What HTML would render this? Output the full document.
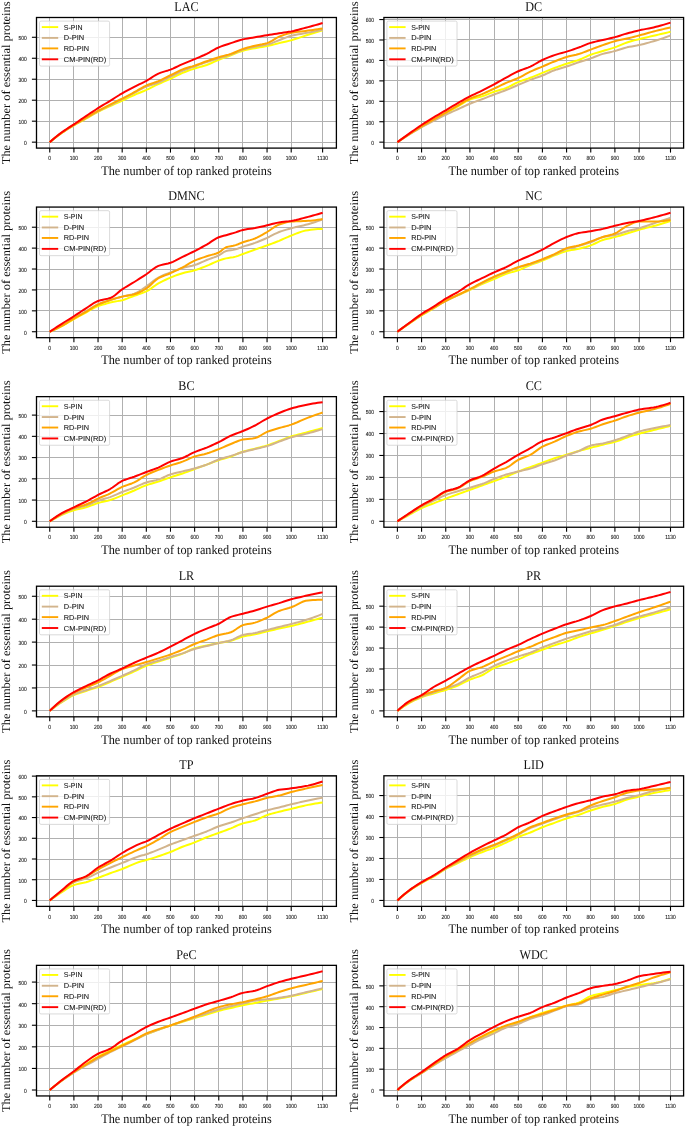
<!DOCTYPE html>
<html><head><meta charset="utf-8"><style>
html,body{margin:0;padding:0;background:#fff;width:685px;height:1126px;overflow:hidden}
svg{display:block;text-rendering:geometricPrecision;will-change:transform}
.gr{stroke:#b0b0b0;stroke-width:1;fill:none}
.grv{stroke-width:1.1}
.cv{fill:none;stroke-width:2;stroke-linejoin:round;stroke-linecap:butt}
.sp{fill:none;stroke:#000;stroke-width:1.3}
.tk{stroke:#000;stroke-width:1.1}
.lgb{fill:#fff;fill-opacity:0.8;stroke:#d0d0d0;stroke-width:0.8}
.tl{font-family:"Liberation Sans",sans-serif;font-size:5.9px;fill:#222;stroke:#222;stroke-width:0.12}
.lg{font-family:"Liberation Sans",sans-serif;font-size:7.2px;fill:#1a1a1a;stroke:#1a1a1a;stroke-width:0.1}
.ti{font-family:"Liberation Serif",serif;font-size:12.2px;fill:#111}
.xl{font-family:"Liberation Serif",serif;font-size:12.25px;fill:#111}
.yl{font-family:"Liberation Serif",serif;font-size:12px;fill:#111}
</style></head><body>
<svg width="685" height="1126" viewBox="0 0 685 1126">
<rect width="685" height="1126" fill="#fff"/>
<g><line x1="49.50" y1="17.50" x2="49.50" y2="148.10" class="gr"/><line x1="73.50" y1="17.50" x2="73.50" y2="148.10" class="gr"/><line x1="98.50" y1="17.50" x2="98.50" y2="148.10" class="gr"/><line x1="122.50" y1="17.50" x2="122.50" y2="148.10" class="gr"/><line x1="146.50" y1="17.50" x2="146.50" y2="148.10" class="gr"/><line x1="170.50" y1="17.50" x2="170.50" y2="148.10" class="gr"/><line x1="194.50" y1="17.50" x2="194.50" y2="148.10" class="gr"/><line x1="218.50" y1="17.50" x2="218.50" y2="148.10" class="gr"/><line x1="242.50" y1="17.50" x2="242.50" y2="148.10" class="gr"/><line x1="267.50" y1="17.50" x2="267.50" y2="148.10" class="gr"/><line x1="291.50" y1="17.50" x2="291.50" y2="148.10" class="gr"/><line x1="322.50" y1="17.50" x2="322.50" y2="148.10" class="gr"/><line x1="36.50" y1="142.50" x2="336.40" y2="142.50" class="gr"/><line x1="36.50" y1="121.50" x2="336.40" y2="121.50" class="gr"/><line x1="36.50" y1="100.50" x2="336.40" y2="100.50" class="gr"/><line x1="36.50" y1="79.50" x2="336.40" y2="79.50" class="gr"/><line x1="36.50" y1="58.50" x2="336.40" y2="58.50" class="gr"/><line x1="36.50" y1="37.50" x2="336.40" y2="37.50" class="gr"/><polyline points="49.75,142.16 52.16,140.18 54.58,138.26 56.99,136.41 59.41,134.63 61.82,132.93 64.24,131.31 66.65,129.76 69.07,128.27 71.48,126.81 73.90,125.38 76.31,123.99 78.73,122.65 81.14,121.33 83.55,120.01 85.97,118.67 88.38,117.28 90.80,115.85 93.21,114.43 95.63,113.05 98.04,111.75 100.46,110.54 102.87,109.39 105.29,108.28 107.70,107.18 110.12,106.08 112.53,104.98 114.94,103.90 117.36,102.82 119.77,101.73 122.19,100.63 124.60,99.50 127.02,98.35 129.43,97.19 131.85,96.06 134.26,94.97 136.68,93.93 139.09,92.95 141.50,91.97 143.92,90.98 146.33,89.93 148.75,88.80 151.16,87.62 153.58,86.40 155.99,85.21 158.41,84.06 160.82,82.98 163.24,81.95 165.65,80.93 168.07,79.89 170.48,78.81 172.89,77.66 175.31,76.43 177.72,75.20 180.14,74.02 182.55,72.94 184.97,71.96 187.38,71.04 189.80,70.17 192.21,69.34 194.63,68.54 197.04,67.80 199.46,67.12 201.87,66.46 204.28,65.76 206.70,64.97 209.11,64.03 211.53,62.97 213.94,61.85 216.36,60.75 218.77,59.73 221.19,58.80 223.60,57.92 226.02,57.06 228.43,56.20 230.85,55.32 233.26,54.37 235.67,53.36 238.09,52.37 240.50,51.46 242.92,50.71 245.33,50.10 247.75,49.57 250.16,49.09 252.58,48.64 254.99,48.19 257.41,47.76 259.82,47.36 262.23,46.96 264.65,46.55 267.06,46.09 269.48,45.57 271.89,44.99 274.31,44.38 276.72,43.76 279.14,43.15 281.55,42.58 283.97,42.02 286.38,41.45 288.80,40.85 291.21,40.22 293.62,39.52 296.04,38.77 298.45,37.98 300.87,37.17 303.28,36.36 305.70,35.57 308.11,34.80 310.53,34.05 312.94,33.30 315.36,32.56 317.77,31.82 320.19,31.09 322.60,30.36" fill="none" stroke="#ffff00" class="cv"/><polyline points="49.75,142.16 52.16,140.12 54.58,138.15 56.99,136.26 59.41,134.45 61.82,132.72 64.24,131.10 66.65,129.55 69.07,128.07 71.48,126.61 73.90,125.17 76.31,123.75 78.73,122.36 81.14,120.99 83.55,119.63 85.97,118.25 88.38,116.85 90.80,115.44 93.21,114.03 95.63,112.66 98.04,111.33 100.46,110.06 102.87,108.84 105.29,107.64 107.70,106.45 110.12,105.24 112.53,104.03 114.94,102.82 117.36,101.61 119.77,100.39 122.19,99.16 124.60,97.92 127.02,96.66 129.43,95.40 131.85,94.13 134.26,92.87 136.68,91.56 139.09,90.22 141.50,88.89 143.92,87.65 146.33,86.58 148.75,85.69 151.16,84.93 153.58,84.21 155.99,83.46 158.41,82.59 160.82,81.56 163.24,80.40 165.65,79.17 168.07,77.93 170.48,76.72 172.89,75.52 175.31,74.29 177.72,73.07 180.14,71.91 182.55,70.84 184.97,69.88 187.38,68.99 189.80,68.14 192.21,67.30 194.63,66.44 197.04,65.55 199.46,64.64 201.87,63.75 204.28,62.87 206.70,62.03 209.11,61.24 211.53,60.48 213.94,59.74 216.36,59.00 218.77,58.26 221.19,57.52 223.60,56.79 226.02,56.06 228.43,55.30 230.85,54.48 233.26,53.55 235.67,52.52 238.09,51.47 240.50,50.49 242.92,49.66 245.33,48.96 247.75,48.33 250.16,47.76 252.58,47.22 254.99,46.72 257.41,46.28 259.82,45.90 262.23,45.54 264.65,45.13 267.06,44.62 269.48,43.94 271.89,43.09 274.31,42.13 276.72,41.15 279.14,40.22 281.55,39.29 283.97,38.32 286.38,37.38 288.80,36.52 291.21,35.81 293.62,35.25 296.04,34.77 298.45,34.33 300.87,33.93 303.28,33.53 305.70,33.10 308.11,32.64 310.53,32.17 312.94,31.69 315.36,31.21 317.77,30.72 320.19,30.23 322.60,29.73" fill="none" stroke="#d2b48c" class="cv"/><polyline points="49.75,142.16 52.16,140.14 54.58,138.18 56.99,136.29 59.41,134.47 61.82,132.72 64.24,131.06 66.65,129.48 69.07,127.95 71.48,126.45 73.90,124.96 76.31,123.49 78.73,122.06 81.14,120.64 83.55,119.23 85.97,117.83 88.38,116.42 90.80,115.02 93.21,113.62 95.63,112.25 98.04,110.91 100.46,109.61 102.87,108.34 105.29,107.09 107.70,105.85 110.12,104.62 112.53,103.39 114.94,102.18 117.36,100.97 119.77,99.76 122.19,98.53 124.60,97.29 127.02,96.05 129.43,94.80 131.85,93.53 134.26,92.24 136.68,90.88 139.09,89.45 141.50,88.03 143.92,86.70 146.33,85.53 148.75,84.55 151.16,83.69 153.58,82.89 155.99,82.05 158.41,81.12 160.82,80.05 163.24,78.89 165.65,77.68 168.07,76.45 170.48,75.25 172.89,74.03 175.31,72.78 177.72,71.54 180.14,70.39 182.55,69.38 184.97,68.52 187.38,67.77 189.80,67.07 192.21,66.37 194.63,65.60 197.04,64.75 199.46,63.86 201.87,62.96 204.28,62.06 206.70,61.19 209.11,60.36 211.53,59.54 213.94,58.73 216.36,57.96 218.77,57.21 221.19,56.52 223.60,55.88 226.02,55.25 228.43,54.59 230.85,53.85 233.26,52.97 235.67,51.96 238.09,50.92 240.50,49.91 242.92,49.03 245.33,48.26 247.75,47.55 250.16,46.89 252.58,46.26 254.99,45.67 257.41,45.16 259.82,44.72 262.23,44.29 264.65,43.79 267.06,43.15 269.48,42.17 271.89,40.80 274.31,39.28 276.72,37.82 279.14,36.65 281.55,35.72 283.97,34.86 286.38,34.08 288.80,33.41 291.21,32.88 293.62,32.46 296.04,32.11 298.45,31.80 300.87,31.52 303.28,31.24 305.70,30.94 308.11,30.61 310.53,30.26 312.94,29.92 315.36,29.56 317.77,29.20 320.19,28.84 322.60,28.47" fill="none" stroke="#ffa500" class="cv"/><polyline points="49.75,142.16 52.16,140.04 54.58,137.98 56.99,136.01 59.41,134.11 61.82,132.30 64.24,130.61 66.65,129.00 69.07,127.46 71.48,125.91 73.90,124.33 76.31,122.71 78.73,121.07 81.14,119.42 83.55,117.78 85.97,116.15 88.38,114.53 90.80,112.92 93.21,111.31 95.63,109.73 98.04,108.18 100.46,106.68 102.87,105.21 105.29,103.76 107.70,102.31 110.12,100.84 112.53,99.33 114.94,97.78 117.36,96.24 119.77,94.73 122.19,93.29 124.60,91.92 127.02,90.59 129.43,89.29 131.85,88.03 134.26,86.79 136.68,85.59 139.09,84.46 141.50,83.33 143.92,82.16 146.33,80.91 148.75,79.48 151.16,77.88 153.58,76.27 155.99,74.79 158.41,73.57 160.82,72.64 163.24,71.87 165.65,71.15 168.07,70.42 170.48,69.58 172.89,68.60 175.31,67.50 177.72,66.36 180.14,65.22 182.55,64.13 184.97,63.10 187.38,62.10 189.80,61.11 192.21,60.11 194.63,59.10 197.04,58.08 199.46,57.07 201.87,56.04 204.28,54.98 206.70,53.85 209.11,52.60 211.53,51.22 213.94,49.82 216.36,48.49 218.77,47.35 221.19,46.39 223.60,45.52 226.02,44.71 228.43,43.94 230.85,43.15 233.26,42.34 235.67,41.51 238.09,40.71 240.50,39.99 242.92,39.38 245.33,38.88 247.75,38.45 250.16,38.06 252.58,37.68 254.99,37.28 257.41,36.86 259.82,36.43 262.23,36.01 264.65,35.59 267.06,35.18 269.48,34.79 271.89,34.41 274.31,34.04 276.72,33.67 279.14,33.30 281.55,32.93 283.97,32.58 286.38,32.22 288.80,31.84 291.21,31.41 293.62,30.91 296.04,30.34 298.45,29.72 300.87,29.07 303.28,28.41 305.70,27.75 308.11,27.10 310.53,26.44 312.94,25.78 315.36,25.10 317.77,24.42 320.19,23.72 322.60,23.02" fill="none" stroke="#ff0000" class="cv"/><rect x="36.50" y="17.50" width="299.90" height="130.60" class="sp"/><line x1="49.75" y1="148.10" x2="49.75" y2="152.60" class="tk"/><text transform="translate(49.75,160.30) scale(0.84,1)" class="tl" text-anchor="middle">0</text><line x1="73.90" y1="148.10" x2="73.90" y2="152.60" class="tk"/><text transform="translate(73.90,160.30) scale(0.84,1)" class="tl" text-anchor="middle">100</text><line x1="98.04" y1="148.10" x2="98.04" y2="152.60" class="tk"/><text transform="translate(98.04,160.30) scale(0.84,1)" class="tl" text-anchor="middle">200</text><line x1="122.19" y1="148.10" x2="122.19" y2="152.60" class="tk"/><text transform="translate(122.19,160.30) scale(0.84,1)" class="tl" text-anchor="middle">300</text><line x1="146.33" y1="148.10" x2="146.33" y2="152.60" class="tk"/><text transform="translate(146.33,160.30) scale(0.84,1)" class="tl" text-anchor="middle">400</text><line x1="170.48" y1="148.10" x2="170.48" y2="152.60" class="tk"/><text transform="translate(170.48,160.30) scale(0.84,1)" class="tl" text-anchor="middle">500</text><line x1="194.63" y1="148.10" x2="194.63" y2="152.60" class="tk"/><text transform="translate(194.63,160.30) scale(0.84,1)" class="tl" text-anchor="middle">600</text><line x1="218.77" y1="148.10" x2="218.77" y2="152.60" class="tk"/><text transform="translate(218.77,160.30) scale(0.84,1)" class="tl" text-anchor="middle">700</text><line x1="242.92" y1="148.10" x2="242.92" y2="152.60" class="tk"/><text transform="translate(242.92,160.30) scale(0.84,1)" class="tl" text-anchor="middle">800</text><line x1="267.06" y1="148.10" x2="267.06" y2="152.60" class="tk"/><text transform="translate(267.06,160.30) scale(0.84,1)" class="tl" text-anchor="middle">900</text><line x1="291.21" y1="148.10" x2="291.21" y2="152.60" class="tk"/><text transform="translate(291.21,160.30) scale(0.84,1)" class="tl" text-anchor="middle">1000</text><line x1="322.60" y1="148.10" x2="322.60" y2="152.60" class="tk"/><text transform="translate(322.60,160.30) scale(0.84,1)" class="tl" text-anchor="middle">1130</text><line x1="31.90" y1="142.16" x2="36.50" y2="142.16" class="tk"/><text transform="translate(26.70,145.06) scale(0.84,1)" class="tl" text-anchor="end">0</text><line x1="31.90" y1="121.19" x2="36.50" y2="121.19" class="tk"/><text transform="translate(26.70,124.09) scale(0.84,1)" class="tl" text-anchor="end">100</text><line x1="31.90" y1="100.21" x2="36.50" y2="100.21" class="tk"/><text transform="translate(26.70,103.11) scale(0.84,1)" class="tl" text-anchor="end">200</text><line x1="31.90" y1="79.23" x2="36.50" y2="79.23" class="tk"/><text transform="translate(26.70,82.13) scale(0.84,1)" class="tl" text-anchor="end">300</text><line x1="31.90" y1="58.26" x2="36.50" y2="58.26" class="tk"/><text transform="translate(26.70,61.16) scale(0.84,1)" class="tl" text-anchor="end">400</text><line x1="31.90" y1="37.28" x2="36.50" y2="37.28" class="tk"/><text transform="translate(26.70,40.18) scale(0.84,1)" class="tl" text-anchor="end">500</text><rect x="39.50" y="21.10" width="70.1" height="45" rx="1.5" class="lgb"/><line x1="41.80" y1="27.10" x2="58.20" y2="27.10" stroke="#ffff00" stroke-width="1.9"/><text x="63.80" y="29.60" class="lg" textLength="18.7" lengthAdjust="spacingAndGlyphs">S-PIN</text><line x1="41.80" y1="37.90" x2="58.20" y2="37.90" stroke="#d2b48c" stroke-width="1.9"/><text x="63.80" y="40.40" class="lg" textLength="20.3" lengthAdjust="spacingAndGlyphs">D-PIN</text><line x1="41.80" y1="48.40" x2="58.20" y2="48.40" stroke="#ffa500" stroke-width="1.9"/><text x="63.80" y="50.90" class="lg" textLength="25.2" lengthAdjust="spacingAndGlyphs">RD-PIN</text><line x1="41.80" y1="59.30" x2="58.20" y2="59.30" stroke="#ff0000" stroke-width="1.9"/><text x="63.80" y="61.80" class="lg" textLength="42.5" lengthAdjust="spacingAndGlyphs">CM-PIN(RD)</text><text transform="translate(186.45,10.80) scale(1,1.1)" class="ti" text-anchor="middle">LAC</text><text transform="translate(186.45,174.90) scale(1,1.07)" class="xl" text-anchor="middle">The number of top ranked proteins</text><text transform="translate(10.10,82.80) rotate(-90) scale(1.035,1)" class="yl" text-anchor="middle">The number of essential proteins</text></g>
<g><line x1="397.50" y1="17.50" x2="397.50" y2="148.10" class="gr"/><line x1="421.50" y1="17.50" x2="421.50" y2="148.10" class="gr"/><line x1="445.50" y1="17.50" x2="445.50" y2="148.10" class="gr"/><line x1="469.50" y1="17.50" x2="469.50" y2="148.10" class="gr"/><line x1="494.50" y1="17.50" x2="494.50" y2="148.10" class="gr"/><line x1="518.50" y1="17.50" x2="518.50" y2="148.10" class="gr"/><line x1="542.50" y1="17.50" x2="542.50" y2="148.10" class="gr"/><line x1="566.50" y1="17.50" x2="566.50" y2="148.10" class="gr"/><line x1="590.50" y1="17.50" x2="590.50" y2="148.10" class="gr"/><line x1="614.50" y1="17.50" x2="614.50" y2="148.10" class="gr"/><line x1="639.50" y1="17.50" x2="639.50" y2="148.10" class="gr"/><line x1="670.50" y1="17.50" x2="670.50" y2="148.10" class="gr"/><line x1="383.90" y1="142.50" x2="683.60" y2="142.50" class="gr"/><line x1="383.90" y1="121.50" x2="683.60" y2="121.50" class="gr"/><line x1="383.90" y1="101.50" x2="683.60" y2="101.50" class="gr"/><line x1="383.90" y1="80.50" x2="683.60" y2="80.50" class="gr"/><line x1="383.90" y1="60.50" x2="683.60" y2="60.50" class="gr"/><line x1="383.90" y1="39.50" x2="683.60" y2="39.50" class="gr"/><line x1="383.90" y1="19.50" x2="683.60" y2="19.50" class="gr"/><polyline points="397.40,142.16 399.82,140.52 402.23,138.90 404.65,137.31 407.07,135.74 409.48,134.19 411.90,132.67 414.32,131.18 416.73,129.71 419.15,128.26 421.57,126.84 423.98,125.45 426.40,124.10 428.82,122.76 431.24,121.43 433.65,120.09 436.07,118.75 438.49,117.41 440.90,116.06 443.32,114.71 445.74,113.35 448.15,111.97 450.57,110.59 452.99,109.19 455.40,107.80 457.82,106.40 460.24,104.93 462.65,103.36 465.07,101.85 467.49,100.50 469.90,99.45 472.32,98.71 474.74,98.12 477.15,97.59 479.57,97.05 481.99,96.39 484.41,95.56 486.82,94.60 489.24,93.58 491.66,92.59 494.07,91.69 496.49,90.92 498.91,90.24 501.32,89.56 503.74,88.84 506.16,88.01 508.57,86.97 510.99,85.75 513.41,84.45 515.82,83.19 518.24,82.08 520.66,81.15 523.07,80.30 525.49,79.49 527.91,78.67 530.32,77.79 532.74,76.85 535.16,75.88 537.58,74.88 539.99,73.88 542.41,72.89 544.83,71.90 547.24,70.90 549.66,69.90 552.08,68.92 554.49,67.98 556.91,67.08 559.33,66.20 561.74,65.33 564.16,64.50 566.58,63.69 568.99,62.94 571.41,62.25 573.83,61.56 576.24,60.83 578.66,60.01 581.08,59.05 583.49,57.94 585.91,56.78 588.33,55.67 590.75,54.70 593.16,53.88 595.58,53.13 598.00,52.43 600.41,51.74 602.83,51.02 605.25,50.30 607.66,49.60 610.08,48.89 612.50,48.15 614.91,47.35 617.33,46.42 619.75,45.39 622.16,44.33 624.58,43.32 627.00,42.44 629.41,41.70 631.83,41.02 634.25,40.38 636.66,39.78 639.08,39.17 641.50,38.57 643.92,38.00 646.33,37.44 648.75,36.88 651.17,36.33 653.58,35.77 656.00,35.21 658.42,34.64 660.83,34.08 663.25,33.51 665.67,32.95 668.08,32.38 670.50,31.81" fill="none" stroke="#ffff00" class="cv"/><polyline points="397.40,142.16 399.82,140.56 402.23,138.98 404.65,137.43 407.07,135.90 409.48,134.40 411.90,132.92 414.32,131.45 416.73,130.02 419.15,128.61 421.57,127.25 423.98,125.93 426.40,124.65 428.82,123.39 431.24,122.15 433.65,120.91 436.07,119.66 438.49,118.41 440.90,117.18 443.32,115.96 445.74,114.78 448.15,113.64 450.57,112.53 452.99,111.44 455.40,110.36 457.82,109.26 460.24,108.14 462.65,107.00 465.07,105.87 467.49,104.78 469.90,103.75 472.32,102.79 474.74,101.89 477.15,101.02 479.57,100.15 481.99,99.25 484.41,98.32 486.82,97.38 489.24,96.43 491.66,95.48 494.07,94.55 496.49,93.65 498.91,92.77 501.32,91.88 503.74,90.99 506.16,90.05 508.57,89.07 510.99,88.06 513.41,87.02 515.82,85.98 518.24,84.95 520.66,83.91 523.07,82.86 525.49,81.82 527.91,80.80 530.32,79.84 532.74,78.95 535.16,78.11 537.58,77.29 539.99,76.45 542.41,75.55 544.83,74.52 547.24,73.41 549.66,72.27 552.08,71.19 554.49,70.23 556.91,69.42 559.33,68.69 561.74,68.00 564.16,67.30 566.58,66.55 568.99,65.73 571.41,64.86 573.83,63.98 576.24,63.10 578.66,62.26 581.08,61.47 583.49,60.71 585.91,59.96 588.33,59.19 590.75,58.38 593.16,57.49 595.58,56.53 598.00,55.57 600.41,54.67 602.83,53.88 605.25,53.24 607.66,52.68 610.08,52.16 612.50,51.62 614.91,51.02 617.33,50.32 619.75,49.53 622.16,48.73 624.58,47.98 627.00,47.35 629.41,46.84 631.83,46.41 634.25,46.00 636.66,45.58 639.08,45.10 641.50,44.54 643.92,43.93 646.33,43.28 648.75,42.60 651.17,41.89 653.58,41.17 656.00,40.44 658.42,39.68 660.83,38.89 663.25,38.08 665.67,37.24 668.08,36.38 670.50,35.49" fill="none" stroke="#d2b48c" class="cv"/><polyline points="397.40,142.16 399.82,140.48 402.23,138.82 404.65,137.18 407.07,135.57 409.48,133.99 411.90,132.43 414.32,130.89 416.73,129.38 419.15,127.89 421.57,126.43 423.98,125.00 426.40,123.61 428.82,122.23 431.24,120.86 433.65,119.48 436.07,118.09 438.49,116.70 440.90,115.31 443.32,113.92 445.74,112.53 448.15,111.14 450.57,109.75 452.99,108.36 455.40,106.97 457.82,105.59 460.24,104.15 462.65,102.66 465.07,101.20 467.49,99.84 469.90,98.64 472.32,97.63 474.74,96.74 477.15,95.91 479.57,95.07 481.99,94.14 484.41,93.11 486.82,92.03 489.24,90.90 491.66,89.76 494.07,88.62 496.49,87.48 498.91,86.31 501.32,85.14 503.74,83.99 506.16,82.90 508.57,81.89 510.99,80.95 513.41,80.01 515.82,79.05 518.24,78.00 520.66,76.81 523.07,75.51 525.49,74.18 527.91,72.87 530.32,71.66 532.74,70.57 535.16,69.54 537.58,68.55 539.99,67.56 542.41,66.55 544.83,65.52 547.24,64.48 549.66,63.44 552.08,62.43 554.49,61.45 556.91,60.48 559.33,59.51 561.74,58.58 564.16,57.71 566.58,56.95 568.99,56.32 571.41,55.77 573.83,55.26 576.24,54.72 578.66,54.09 581.08,53.32 583.49,52.43 585.91,51.49 588.33,50.52 590.75,49.59 593.16,48.68 595.58,47.76 598.00,46.85 600.41,45.95 602.83,45.10 605.25,44.26 607.66,43.43 610.08,42.64 612.50,41.89 614.91,41.21 617.33,40.63 619.75,40.10 622.16,39.60 624.58,39.10 627.00,38.56 629.41,37.98 631.83,37.37 634.25,36.76 636.66,36.13 639.08,35.49 641.50,34.84 643.92,34.18 646.33,33.50 648.75,32.82 651.17,32.15 653.58,31.51 656.00,30.90 658.42,30.30 660.83,29.72 663.25,29.15 665.67,28.59 668.08,28.05 670.50,27.52" fill="none" stroke="#ffa500" class="cv"/><polyline points="397.40,142.16 399.82,140.37 402.23,138.60 404.65,136.84 407.07,135.10 409.48,133.38 411.90,131.66 414.32,129.96 416.73,128.27 419.15,126.61 421.57,125.00 423.98,123.43 426.40,121.90 428.82,120.39 431.24,118.91 433.65,117.44 436.07,115.98 438.49,114.55 440.90,113.13 443.32,111.71 445.74,110.29 448.15,108.85 450.57,107.40 452.99,105.96 455.40,104.54 457.82,103.13 460.24,101.74 462.65,100.35 465.07,98.99 467.49,97.66 469.90,96.39 472.32,95.19 474.74,94.06 477.15,92.95 479.57,91.83 481.99,90.67 484.41,89.45 486.82,88.20 489.24,86.93 491.66,85.64 494.07,84.33 496.49,83.00 498.91,81.65 501.32,80.28 503.74,78.92 506.16,77.59 508.57,76.27 510.99,74.94 513.41,73.63 515.82,72.39 518.24,71.25 520.66,70.25 523.07,69.35 525.49,68.48 527.91,67.57 530.32,66.55 532.74,65.35 535.16,64.00 537.58,62.60 539.99,61.24 542.41,60.01 544.83,58.92 547.24,57.87 549.66,56.88 552.08,55.96 554.49,55.11 556.91,54.35 559.33,53.66 561.74,53.01 564.16,52.35 566.58,51.64 568.99,50.87 571.41,50.08 573.83,49.26 576.24,48.41 578.66,47.55 581.08,46.62 583.49,45.61 585.91,44.60 588.33,43.65 590.75,42.85 593.16,42.19 595.58,41.61 598.00,41.07 600.41,40.54 602.83,39.99 605.25,39.43 607.66,38.88 610.08,38.32 612.50,37.75 614.91,37.13 617.33,36.44 619.75,35.69 622.16,34.92 624.58,34.16 627.00,33.45 629.41,32.79 631.83,32.16 634.25,31.54 636.66,30.95 639.08,30.38 641.50,29.85 643.92,29.36 646.33,28.89 648.75,28.42 651.17,27.93 653.58,27.40 656.00,26.82 658.42,26.20 660.83,25.54 663.25,24.86 665.67,24.14 668.08,23.39 670.50,22.62" fill="none" stroke="#ff0000" class="cv"/><rect x="383.90" y="17.50" width="299.70" height="130.60" class="sp"/><line x1="397.40" y1="148.10" x2="397.40" y2="152.60" class="tk"/><text transform="translate(397.40,160.30) scale(0.84,1)" class="tl" text-anchor="middle">0</text><line x1="421.57" y1="148.10" x2="421.57" y2="152.60" class="tk"/><text transform="translate(421.57,160.30) scale(0.84,1)" class="tl" text-anchor="middle">100</text><line x1="445.74" y1="148.10" x2="445.74" y2="152.60" class="tk"/><text transform="translate(445.74,160.30) scale(0.84,1)" class="tl" text-anchor="middle">200</text><line x1="469.90" y1="148.10" x2="469.90" y2="152.60" class="tk"/><text transform="translate(469.90,160.30) scale(0.84,1)" class="tl" text-anchor="middle">300</text><line x1="494.07" y1="148.10" x2="494.07" y2="152.60" class="tk"/><text transform="translate(494.07,160.30) scale(0.84,1)" class="tl" text-anchor="middle">400</text><line x1="518.24" y1="148.10" x2="518.24" y2="152.60" class="tk"/><text transform="translate(518.24,160.30) scale(0.84,1)" class="tl" text-anchor="middle">500</text><line x1="542.41" y1="148.10" x2="542.41" y2="152.60" class="tk"/><text transform="translate(542.41,160.30) scale(0.84,1)" class="tl" text-anchor="middle">600</text><line x1="566.58" y1="148.10" x2="566.58" y2="152.60" class="tk"/><text transform="translate(566.58,160.30) scale(0.84,1)" class="tl" text-anchor="middle">700</text><line x1="590.75" y1="148.10" x2="590.75" y2="152.60" class="tk"/><text transform="translate(590.75,160.30) scale(0.84,1)" class="tl" text-anchor="middle">800</text><line x1="614.91" y1="148.10" x2="614.91" y2="152.60" class="tk"/><text transform="translate(614.91,160.30) scale(0.84,1)" class="tl" text-anchor="middle">900</text><line x1="639.08" y1="148.10" x2="639.08" y2="152.60" class="tk"/><text transform="translate(639.08,160.30) scale(0.84,1)" class="tl" text-anchor="middle">1000</text><line x1="670.50" y1="148.10" x2="670.50" y2="152.60" class="tk"/><text transform="translate(670.50,160.30) scale(0.84,1)" class="tl" text-anchor="middle">1130</text><line x1="379.30" y1="142.16" x2="383.90" y2="142.16" class="tk"/><text transform="translate(374.10,145.06) scale(0.84,1)" class="tl" text-anchor="end">0</text><line x1="379.30" y1="121.73" x2="383.90" y2="121.73" class="tk"/><text transform="translate(374.10,124.63) scale(0.84,1)" class="tl" text-anchor="end">100</text><line x1="379.30" y1="101.29" x2="383.90" y2="101.29" class="tk"/><text transform="translate(374.10,104.19) scale(0.84,1)" class="tl" text-anchor="end">200</text><line x1="379.30" y1="80.86" x2="383.90" y2="80.86" class="tk"/><text transform="translate(374.10,83.76) scale(0.84,1)" class="tl" text-anchor="end">300</text><line x1="379.30" y1="60.42" x2="383.90" y2="60.42" class="tk"/><text transform="translate(374.10,63.32) scale(0.84,1)" class="tl" text-anchor="end">400</text><line x1="379.30" y1="39.99" x2="383.90" y2="39.99" class="tk"/><text transform="translate(374.10,42.89) scale(0.84,1)" class="tl" text-anchor="end">500</text><line x1="379.30" y1="19.55" x2="383.90" y2="19.55" class="tk"/><text transform="translate(374.10,22.45) scale(0.84,1)" class="tl" text-anchor="end">600</text><rect x="386.90" y="21.10" width="70.1" height="45" rx="1.5" class="lgb"/><line x1="389.20" y1="27.10" x2="405.60" y2="27.10" stroke="#ffff00" stroke-width="1.9"/><text x="411.20" y="29.60" class="lg" textLength="18.7" lengthAdjust="spacingAndGlyphs">S-PIN</text><line x1="389.20" y1="37.90" x2="405.60" y2="37.90" stroke="#d2b48c" stroke-width="1.9"/><text x="411.20" y="40.40" class="lg" textLength="20.3" lengthAdjust="spacingAndGlyphs">D-PIN</text><line x1="389.20" y1="48.40" x2="405.60" y2="48.40" stroke="#ffa500" stroke-width="1.9"/><text x="411.20" y="50.90" class="lg" textLength="25.2" lengthAdjust="spacingAndGlyphs">RD-PIN</text><line x1="389.20" y1="59.30" x2="405.60" y2="59.30" stroke="#ff0000" stroke-width="1.9"/><text x="411.20" y="61.80" class="lg" textLength="42.5" lengthAdjust="spacingAndGlyphs">CM-PIN(RD)</text><text transform="translate(533.75,10.80) scale(1,1.1)" class="ti" text-anchor="middle">DC</text><text transform="translate(533.75,174.90) scale(1,1.07)" class="xl" text-anchor="middle">The number of top ranked proteins</text><text transform="translate(357.50,82.80) rotate(-90) scale(1.035,1)" class="yl" text-anchor="middle">The number of essential proteins</text></g>
<g><line x1="49.50" y1="207.07" x2="49.50" y2="337.67" class="gr"/><line x1="73.50" y1="207.07" x2="73.50" y2="337.67" class="gr"/><line x1="98.50" y1="207.07" x2="98.50" y2="337.67" class="gr"/><line x1="122.50" y1="207.07" x2="122.50" y2="337.67" class="gr"/><line x1="146.50" y1="207.07" x2="146.50" y2="337.67" class="gr"/><line x1="170.50" y1="207.07" x2="170.50" y2="337.67" class="gr"/><line x1="194.50" y1="207.07" x2="194.50" y2="337.67" class="gr"/><line x1="218.50" y1="207.07" x2="218.50" y2="337.67" class="gr"/><line x1="242.50" y1="207.07" x2="242.50" y2="337.67" class="gr"/><line x1="267.50" y1="207.07" x2="267.50" y2="337.67" class="gr"/><line x1="291.50" y1="207.07" x2="291.50" y2="337.67" class="gr"/><line x1="322.50" y1="207.07" x2="322.50" y2="337.67" class="gr"/><line x1="36.50" y1="331.50" x2="336.40" y2="331.50" class="gr"/><line x1="36.50" y1="310.50" x2="336.40" y2="310.50" class="gr"/><line x1="36.50" y1="289.50" x2="336.40" y2="289.50" class="gr"/><line x1="36.50" y1="269.50" x2="336.40" y2="269.50" class="gr"/><line x1="36.50" y1="248.50" x2="336.40" y2="248.50" class="gr"/><line x1="36.50" y1="227.50" x2="336.40" y2="227.50" class="gr"/><polyline points="49.75,331.73 52.16,330.70 54.58,329.62 56.99,328.49 59.41,327.31 61.82,326.09 64.24,324.80 66.65,323.42 69.07,322.00 71.48,320.58 73.90,319.19 76.31,317.84 78.73,316.49 81.14,315.15 83.55,313.82 85.97,312.50 88.38,311.13 90.80,309.70 93.21,308.31 95.63,307.05 98.04,306.02 100.46,305.25 102.87,304.60 105.29,303.93 107.70,303.17 110.12,302.47 112.53,301.95 114.94,301.53 117.36,301.13 119.77,300.70 122.19,300.17 124.60,299.47 127.02,298.61 129.43,297.67 131.85,296.70 134.26,295.78 136.68,294.94 139.09,294.15 141.50,293.33 143.92,292.43 146.33,291.39 148.75,290.06 151.16,288.43 153.58,286.67 155.99,284.96 158.41,283.45 160.82,282.14 163.24,280.90 165.65,279.73 168.07,278.63 170.48,277.60 172.89,276.61 175.31,275.67 177.72,274.78 180.14,273.95 182.55,273.21 184.97,272.56 187.38,272.01 189.80,271.48 192.21,270.92 194.63,270.28 197.04,269.53 199.46,268.69 201.87,267.79 204.28,266.85 206.70,265.89 209.11,264.88 211.53,263.78 213.94,262.67 216.36,261.61 218.77,260.66 221.19,259.80 223.60,259.01 226.02,258.37 228.43,257.92 230.85,257.57 233.26,257.20 235.67,256.65 238.09,255.85 240.50,254.90 242.92,253.98 245.33,253.10 247.75,252.22 250.16,251.33 252.58,250.45 254.99,249.59 257.41,248.74 259.82,247.92 262.23,247.10 264.65,246.26 267.06,245.41 269.48,244.52 271.89,243.63 274.31,242.71 276.72,241.77 279.14,240.81 281.55,239.78 283.97,238.70 286.38,237.61 288.80,236.55 291.21,235.58 293.62,234.64 296.04,233.68 298.45,232.74 300.87,231.87 303.28,231.13 305.70,230.56 308.11,230.18 310.53,229.85 312.94,229.54 315.36,229.28 317.77,229.07 320.19,228.94 322.60,228.89" fill="none" stroke="#ffff00" class="cv"/><polyline points="49.75,331.73 52.16,330.56 54.58,329.35 56.99,328.09 59.41,326.80 61.82,325.46 64.24,324.06 66.65,322.60 69.07,321.10 71.48,319.60 73.90,318.15 76.31,316.74 78.73,315.37 81.14,314.00 83.55,312.64 85.97,311.25 88.38,309.79 90.80,308.26 93.21,306.75 95.63,305.35 98.04,304.14 100.46,303.13 102.87,302.25 105.29,301.42 107.70,300.67 110.12,299.96 112.53,299.26 114.94,298.58 117.36,297.91 119.77,297.25 122.19,296.62 124.60,296.05 127.02,295.54 129.43,295.02 131.85,294.43 134.26,293.69 136.68,292.65 139.09,291.28 141.50,289.70 143.92,288.02 146.33,286.37 148.75,284.65 151.16,282.76 153.58,280.86 155.99,279.09 158.41,277.60 160.82,276.37 163.24,275.27 165.65,274.27 168.07,273.31 170.48,272.37 172.89,271.42 175.31,270.47 177.72,269.57 180.14,268.73 182.55,267.98 184.97,267.34 187.38,266.80 189.80,266.28 192.21,265.72 194.63,265.05 197.04,264.21 199.46,263.22 201.87,262.14 204.28,261.06 206.70,260.04 209.11,259.13 211.53,258.28 213.94,257.43 216.36,256.50 218.77,255.44 221.19,253.93 223.60,252.22 226.02,251.05 228.43,250.55 230.85,250.21 233.26,249.87 235.67,249.34 238.09,248.51 240.50,247.56 242.92,246.66 245.33,245.89 247.75,245.17 250.16,244.45 252.58,243.71 254.99,242.90 257.41,242.00 259.82,241.03 262.23,240.01 264.65,238.96 267.06,237.88 269.48,236.73 271.89,235.48 274.31,234.23 276.72,233.05 279.14,232.03 281.55,231.16 283.97,230.36 286.38,229.62 288.80,228.93 291.21,228.27 293.62,227.64 296.04,227.07 298.45,226.52 300.87,225.98 303.28,225.42 305.70,224.82 308.11,224.17 310.53,223.47 312.94,222.73 315.36,221.97 317.77,221.17 320.19,220.34 322.60,219.49" fill="none" stroke="#d2b48c" class="cv"/><polyline points="49.75,331.73 52.16,330.68 54.58,329.56 56.99,328.39 59.41,327.16 61.82,325.88 64.24,324.51 66.65,323.04 69.07,321.52 71.48,320.01 73.90,318.56 76.31,317.20 78.73,315.88 81.14,314.57 83.55,313.24 85.97,311.88 88.38,310.40 90.80,308.82 93.21,307.25 95.63,305.80 98.04,304.56 100.46,303.56 102.87,302.69 105.29,301.84 107.70,300.98 110.12,300.17 112.53,299.39 114.94,298.63 117.36,297.90 119.77,297.22 122.19,296.62 124.60,296.13 127.02,295.72 129.43,295.33 131.85,294.89 134.26,294.32 136.68,293.52 139.09,292.50 141.50,291.28 143.92,289.92 146.33,288.47 148.75,286.66 151.16,284.43 153.58,282.08 155.99,279.91 158.41,278.22 160.82,277.01 163.24,276.01 165.65,275.10 168.07,274.20 170.48,273.21 172.89,272.11 175.31,270.97 177.72,269.79 180.14,268.59 182.55,267.35 184.97,266.03 187.38,264.61 189.80,263.18 192.21,261.84 194.63,260.66 197.04,259.66 199.46,258.75 201.87,257.89 204.28,257.08 206.70,256.27 209.11,255.54 211.53,254.89 213.94,254.23 216.36,253.47 218.77,252.51 221.19,250.86 223.60,248.76 226.02,247.29 228.43,246.64 230.85,246.20 233.26,245.76 235.67,245.11 238.09,244.21 240.50,243.20 242.92,242.27 245.33,241.50 247.75,240.80 250.16,240.12 252.58,239.37 254.99,238.51 257.41,237.45 259.82,236.21 262.23,234.85 264.65,233.44 267.06,232.03 269.48,230.49 271.89,228.78 274.31,227.09 276.72,225.60 279.14,224.50 281.55,223.69 283.97,222.95 286.38,222.33 288.80,221.86 291.21,221.58 293.62,221.43 296.04,221.33 298.45,221.26 300.87,221.19 303.28,221.12 305.70,221.02 308.11,220.87 310.53,220.67 312.94,220.42 315.36,220.13 317.77,219.80 320.19,219.45 322.60,219.07" fill="none" stroke="#ffa500" class="cv"/><polyline points="49.75,331.73 52.16,330.11 54.58,328.51 56.99,326.92 59.41,325.35 61.82,323.79 64.24,322.27 66.65,320.77 69.07,319.29 71.48,317.79 73.90,316.27 76.31,314.69 78.73,313.09 81.14,311.47 83.55,309.88 85.97,308.32 88.38,306.72 90.80,305.06 93.21,303.46 95.63,302.07 98.04,301.01 100.46,300.27 102.87,299.68 105.29,299.13 107.70,298.65 110.12,298.08 112.53,296.94 114.94,295.22 117.36,293.18 119.77,291.12 122.19,289.30 124.60,287.76 127.02,286.30 129.43,284.88 131.85,283.45 134.26,281.99 136.68,280.48 139.09,278.95 141.50,277.41 143.92,275.84 146.33,274.25 148.75,272.50 151.16,270.59 153.58,268.72 155.99,267.09 158.41,265.89 160.82,265.11 163.24,264.52 165.65,264.01 168.07,263.46 170.48,262.75 172.89,261.81 175.31,260.67 177.72,259.41 180.14,258.13 182.55,256.90 184.97,255.74 187.38,254.59 189.80,253.43 192.21,252.26 194.63,251.05 197.04,249.81 199.46,248.54 201.87,247.25 204.28,245.93 206.70,244.57 209.11,243.08 211.53,241.44 213.94,239.83 216.36,238.38 218.77,237.25 221.19,236.46 223.60,235.81 226.02,235.16 228.43,234.48 230.85,233.79 233.26,233.09 235.67,232.34 238.09,231.47 240.50,230.61 242.92,229.94 245.33,229.48 247.75,229.11 250.16,228.79 252.58,228.45 254.99,228.06 257.41,227.58 259.82,227.05 262.23,226.49 264.65,225.91 267.06,225.34 269.48,224.74 271.89,224.09 274.31,223.45 276.72,222.88 279.14,222.41 281.55,222.07 283.97,221.80 286.38,221.55 288.80,221.28 291.21,220.95 293.62,220.52 296.04,220.00 298.45,219.42 300.87,218.79 303.28,218.15 305.70,217.50 308.11,216.87 310.53,216.23 312.94,215.58 315.36,214.90 317.77,214.22 320.19,213.51 322.60,212.80" fill="none" stroke="#ff0000" class="cv"/><rect x="36.50" y="207.07" width="299.90" height="130.60" class="sp"/><line x1="49.75" y1="337.67" x2="49.75" y2="342.17" class="tk"/><text transform="translate(49.75,349.87) scale(0.84,1)" class="tl" text-anchor="middle">0</text><line x1="73.90" y1="337.67" x2="73.90" y2="342.17" class="tk"/><text transform="translate(73.90,349.87) scale(0.84,1)" class="tl" text-anchor="middle">100</text><line x1="98.04" y1="337.67" x2="98.04" y2="342.17" class="tk"/><text transform="translate(98.04,349.87) scale(0.84,1)" class="tl" text-anchor="middle">200</text><line x1="122.19" y1="337.67" x2="122.19" y2="342.17" class="tk"/><text transform="translate(122.19,349.87) scale(0.84,1)" class="tl" text-anchor="middle">300</text><line x1="146.33" y1="337.67" x2="146.33" y2="342.17" class="tk"/><text transform="translate(146.33,349.87) scale(0.84,1)" class="tl" text-anchor="middle">400</text><line x1="170.48" y1="337.67" x2="170.48" y2="342.17" class="tk"/><text transform="translate(170.48,349.87) scale(0.84,1)" class="tl" text-anchor="middle">500</text><line x1="194.63" y1="337.67" x2="194.63" y2="342.17" class="tk"/><text transform="translate(194.63,349.87) scale(0.84,1)" class="tl" text-anchor="middle">600</text><line x1="218.77" y1="337.67" x2="218.77" y2="342.17" class="tk"/><text transform="translate(218.77,349.87) scale(0.84,1)" class="tl" text-anchor="middle">700</text><line x1="242.92" y1="337.67" x2="242.92" y2="342.17" class="tk"/><text transform="translate(242.92,349.87) scale(0.84,1)" class="tl" text-anchor="middle">800</text><line x1="267.06" y1="337.67" x2="267.06" y2="342.17" class="tk"/><text transform="translate(267.06,349.87) scale(0.84,1)" class="tl" text-anchor="middle">900</text><line x1="291.21" y1="337.67" x2="291.21" y2="342.17" class="tk"/><text transform="translate(291.21,349.87) scale(0.84,1)" class="tl" text-anchor="middle">1000</text><line x1="322.60" y1="337.67" x2="322.60" y2="342.17" class="tk"/><text transform="translate(322.60,349.87) scale(0.84,1)" class="tl" text-anchor="middle">1130</text><line x1="31.90" y1="331.73" x2="36.50" y2="331.73" class="tk"/><text transform="translate(26.70,334.63) scale(0.84,1)" class="tl" text-anchor="end">0</text><line x1="31.90" y1="310.83" x2="36.50" y2="310.83" class="tk"/><text transform="translate(26.70,313.73) scale(0.84,1)" class="tl" text-anchor="end">100</text><line x1="31.90" y1="289.93" x2="36.50" y2="289.93" class="tk"/><text transform="translate(26.70,292.83) scale(0.84,1)" class="tl" text-anchor="end">200</text><line x1="31.90" y1="269.03" x2="36.50" y2="269.03" class="tk"/><text transform="translate(26.70,271.93) scale(0.84,1)" class="tl" text-anchor="end">300</text><line x1="31.90" y1="248.12" x2="36.50" y2="248.12" class="tk"/><text transform="translate(26.70,251.02) scale(0.84,1)" class="tl" text-anchor="end">400</text><line x1="31.90" y1="227.22" x2="36.50" y2="227.22" class="tk"/><text transform="translate(26.70,230.12) scale(0.84,1)" class="tl" text-anchor="end">500</text><rect x="39.50" y="210.67" width="70.1" height="45" rx="1.5" class="lgb"/><line x1="41.80" y1="216.67" x2="58.20" y2="216.67" stroke="#ffff00" stroke-width="1.9"/><text x="63.80" y="219.17" class="lg" textLength="18.7" lengthAdjust="spacingAndGlyphs">S-PIN</text><line x1="41.80" y1="227.47" x2="58.20" y2="227.47" stroke="#d2b48c" stroke-width="1.9"/><text x="63.80" y="229.97" class="lg" textLength="20.3" lengthAdjust="spacingAndGlyphs">D-PIN</text><line x1="41.80" y1="237.97" x2="58.20" y2="237.97" stroke="#ffa500" stroke-width="1.9"/><text x="63.80" y="240.47" class="lg" textLength="25.2" lengthAdjust="spacingAndGlyphs">RD-PIN</text><line x1="41.80" y1="248.87" x2="58.20" y2="248.87" stroke="#ff0000" stroke-width="1.9"/><text x="63.80" y="251.37" class="lg" textLength="42.5" lengthAdjust="spacingAndGlyphs">CM-PIN(RD)</text><text transform="translate(186.45,200.37) scale(1,1.1)" class="ti" text-anchor="middle">DMNC</text><text transform="translate(186.45,364.47) scale(1,1.07)" class="xl" text-anchor="middle">The number of top ranked proteins</text><text transform="translate(10.10,272.37) rotate(-90) scale(1.035,1)" class="yl" text-anchor="middle">The number of essential proteins</text></g>
<g><line x1="397.50" y1="207.07" x2="397.50" y2="337.67" class="gr"/><line x1="421.50" y1="207.07" x2="421.50" y2="337.67" class="gr"/><line x1="445.50" y1="207.07" x2="445.50" y2="337.67" class="gr"/><line x1="469.50" y1="207.07" x2="469.50" y2="337.67" class="gr"/><line x1="494.50" y1="207.07" x2="494.50" y2="337.67" class="gr"/><line x1="518.50" y1="207.07" x2="518.50" y2="337.67" class="gr"/><line x1="542.50" y1="207.07" x2="542.50" y2="337.67" class="gr"/><line x1="566.50" y1="207.07" x2="566.50" y2="337.67" class="gr"/><line x1="590.50" y1="207.07" x2="590.50" y2="337.67" class="gr"/><line x1="614.50" y1="207.07" x2="614.50" y2="337.67" class="gr"/><line x1="639.50" y1="207.07" x2="639.50" y2="337.67" class="gr"/><line x1="670.50" y1="207.07" x2="670.50" y2="337.67" class="gr"/><line x1="383.90" y1="331.50" x2="683.60" y2="331.50" class="gr"/><line x1="383.90" y1="310.50" x2="683.60" y2="310.50" class="gr"/><line x1="383.90" y1="289.50" x2="683.60" y2="289.50" class="gr"/><line x1="383.90" y1="269.50" x2="683.60" y2="269.50" class="gr"/><line x1="383.90" y1="248.50" x2="683.60" y2="248.50" class="gr"/><line x1="383.90" y1="227.50" x2="683.60" y2="227.50" class="gr"/><polyline points="397.40,331.73 399.82,330.03 402.23,328.34 404.65,326.67 407.07,325.01 409.48,323.37 411.90,321.74 414.32,320.12 416.73,318.52 419.15,316.96 421.57,315.43 423.98,313.96 426.40,312.55 428.82,311.16 431.24,309.76 433.65,308.32 436.07,306.81 438.49,305.23 440.90,303.65 443.32,302.15 445.74,300.80 448.15,299.60 450.57,298.50 452.99,297.45 455.40,296.42 457.82,295.36 460.24,294.28 462.65,293.21 465.07,292.13 467.49,291.04 469.90,289.93 472.32,288.77 474.74,287.58 477.15,286.37 479.57,285.20 481.99,284.08 484.41,283.03 486.82,282.02 489.24,281.04 491.66,280.06 494.07,279.06 496.49,278.00 498.91,276.89 501.32,275.79 503.74,274.75 506.16,273.83 508.57,273.06 510.99,272.38 513.41,271.73 515.82,271.06 518.24,270.28 520.66,269.35 523.07,268.29 525.49,267.17 527.91,266.07 530.32,265.05 532.74,264.14 535.16,263.28 537.58,262.44 539.99,261.58 542.41,260.66 544.83,259.66 547.24,258.60 549.66,257.51 552.08,256.44 554.49,255.44 556.91,254.47 559.33,253.50 561.74,252.57 564.16,251.74 566.58,251.05 568.99,250.51 571.41,250.07 573.83,249.66 576.24,249.24 578.66,248.75 581.08,248.19 583.49,247.58 585.91,246.92 588.33,246.20 590.75,245.41 593.16,244.43 595.58,243.26 598.00,242.03 600.41,240.89 602.83,239.97 605.25,239.28 607.66,238.70 610.08,238.17 612.50,237.64 614.91,237.04 617.33,236.38 619.75,235.68 622.16,234.96 624.58,234.23 627.00,233.49 629.41,232.74 631.83,231.97 634.25,231.19 636.66,230.44 639.08,229.73 641.50,229.08 643.92,228.47 646.33,227.88 648.75,227.30 651.17,226.71 653.58,226.08 656.00,225.42 658.42,224.73 660.83,224.01 663.25,223.28 665.67,222.52 668.08,221.74 670.50,220.95" fill="none" stroke="#ffff00" class="cv"/><polyline points="397.40,331.73 399.82,329.99 402.23,328.25 404.65,326.54 407.07,324.84 409.48,323.16 411.90,321.49 414.32,319.82 416.73,318.17 419.15,316.56 421.57,315.01 423.98,313.52 426.40,312.09 428.82,310.69 431.24,309.30 433.65,307.90 436.07,306.49 438.49,305.08 440.90,303.67 443.32,302.31 445.74,301.01 448.15,299.77 450.57,298.60 452.99,297.45 455.40,296.31 457.82,295.15 460.24,293.99 462.65,292.83 465.07,291.67 467.49,290.50 469.90,289.30 472.32,288.07 474.74,286.80 477.15,285.53 479.57,284.26 481.99,283.03 484.41,281.82 486.82,280.62 489.24,279.43 491.66,278.28 494.07,277.18 496.49,276.12 498.91,275.09 501.32,274.10 503.74,273.12 506.16,272.16 508.57,271.20 510.99,270.24 513.41,269.30 515.82,268.40 518.24,267.56 520.66,266.81 523.07,266.11 525.49,265.44 527.91,264.75 530.32,264.01 532.74,263.20 535.16,262.35 537.58,261.46 539.99,260.55 542.41,259.62 544.83,258.67 547.24,257.69 549.66,256.68 552.08,255.65 554.49,254.60 556.91,253.46 559.33,252.22 561.74,250.99 564.16,249.87 566.58,248.96 568.99,248.27 571.41,247.69 573.83,247.17 576.24,246.64 578.66,246.03 581.08,245.36 583.49,244.65 585.91,243.91 588.33,243.12 590.75,242.27 593.16,241.26 595.58,240.09 598.00,238.89 600.41,237.83 602.83,237.04 605.25,236.53 607.66,236.14 610.08,235.79 612.50,235.42 614.91,234.95 617.33,234.32 619.75,233.56 622.16,232.73 624.58,231.92 627.00,231.19 629.41,230.57 631.83,230.01 634.25,229.46 636.66,228.89 639.08,228.27 641.50,227.56 643.92,226.78 646.33,225.97 648.75,225.13 651.17,224.28 653.58,223.45 656.00,222.64 658.42,221.83 660.83,221.03 663.25,220.23 665.67,219.42 668.08,218.62 670.50,217.81" fill="none" stroke="#d2b48c" class="cv"/><polyline points="397.40,331.73 399.82,330.00 402.23,328.28 404.65,326.57 407.07,324.86 409.48,323.16 411.90,321.46 414.32,319.74 416.73,318.04 419.15,316.38 421.57,314.80 423.98,313.30 426.40,311.87 428.82,310.47 431.24,309.08 433.65,307.70 436.07,306.28 438.49,304.87 440.90,303.47 443.32,302.10 445.74,300.80 448.15,299.57 450.57,298.39 452.99,297.24 455.40,296.10 457.82,294.94 460.24,293.78 462.65,292.63 465.07,291.48 467.49,290.30 469.90,289.09 472.32,287.83 474.74,286.52 477.15,285.19 479.57,283.88 481.99,282.61 484.41,281.39 486.82,280.19 489.24,279.01 491.66,277.86 494.07,276.76 496.49,275.70 498.91,274.68 501.32,273.68 503.74,272.71 506.16,271.74 508.57,270.78 510.99,269.82 513.41,268.88 515.82,267.98 518.24,267.14 520.66,266.39 523.07,265.69 525.49,265.02 527.91,264.33 530.32,263.59 532.74,262.78 535.16,261.93 537.58,261.04 539.99,260.13 542.41,259.20 544.83,258.26 547.24,257.29 549.66,256.29 552.08,255.26 554.49,254.18 556.91,252.97 559.33,251.62 561.74,250.27 564.16,249.06 566.58,248.12 568.99,247.46 571.41,246.94 573.83,246.47 576.24,245.98 578.66,245.41 581.08,244.71 583.49,243.94 585.91,243.12 588.33,242.28 590.75,241.43 593.16,240.57 595.58,239.67 598.00,238.75 600.41,237.87 602.83,237.04 605.25,236.33 607.66,235.69 610.08,235.06 612.50,234.35 614.91,233.49 617.33,232.27 619.75,230.68 622.16,228.95 624.58,227.30 627.00,225.97 629.41,224.80 631.83,223.62 634.25,222.59 636.66,221.86 639.08,221.58 641.50,221.58 643.92,221.58 646.33,221.58 648.75,221.58 651.17,221.58 653.58,221.58 656.00,221.56 658.42,221.45 660.83,221.25 663.25,220.98 665.67,220.65 668.08,220.29 670.50,219.90" fill="none" stroke="#ffa500" class="cv"/><polyline points="397.40,331.73 399.82,329.92 402.23,328.11 404.65,326.32 407.07,324.53 409.48,322.75 411.90,320.95 414.32,319.14 416.73,317.35 419.15,315.62 421.57,313.97 423.98,312.43 426.40,310.97 428.82,309.56 431.24,308.13 433.65,306.65 436.07,305.08 438.49,303.45 440.90,301.82 443.32,300.22 445.74,298.71 448.15,297.31 450.57,296.00 452.99,294.72 455.40,293.41 457.82,292.02 460.24,290.48 462.65,288.82 465.07,287.14 467.49,285.53 469.90,284.08 472.32,282.79 474.74,281.61 477.15,280.48 479.57,279.36 481.99,278.22 484.41,277.04 486.82,275.85 489.24,274.66 491.66,273.50 494.07,272.37 496.49,271.30 498.91,270.29 501.32,269.29 503.74,268.25 506.16,267.14 508.57,265.92 510.99,264.59 513.41,263.22 515.82,261.89 518.24,260.66 520.66,259.56 523.07,258.52 525.49,257.52 527.91,256.50 530.32,255.44 532.74,254.32 535.16,253.18 537.58,252.02 539.99,250.82 542.41,249.59 544.83,248.29 547.24,246.93 549.66,245.55 552.08,244.19 554.49,242.90 556.91,241.64 559.33,240.39 561.74,239.19 564.16,238.06 566.58,237.04 568.99,236.11 571.41,235.21 573.83,234.38 576.24,233.66 578.66,233.07 581.08,232.62 583.49,232.24 585.91,231.91 588.33,231.57 590.75,231.19 593.16,230.77 595.58,230.34 598.00,229.89 600.41,229.40 602.83,228.89 605.25,228.32 607.66,227.69 610.08,227.03 612.50,226.37 614.91,225.76 617.33,225.18 619.75,224.61 622.16,224.06 624.58,223.53 627.00,223.04 629.41,222.60 631.83,222.20 634.25,221.81 636.66,221.40 639.08,220.95 641.50,220.45 643.92,219.90 646.33,219.33 648.75,218.73 651.17,218.12 653.58,217.50 656.00,216.87 658.42,216.23 660.83,215.58 663.25,214.90 665.67,214.22 668.08,213.51 670.50,212.80" fill="none" stroke="#ff0000" class="cv"/><rect x="383.90" y="207.07" width="299.70" height="130.60" class="sp"/><line x1="397.40" y1="337.67" x2="397.40" y2="342.17" class="tk"/><text transform="translate(397.40,349.87) scale(0.84,1)" class="tl" text-anchor="middle">0</text><line x1="421.57" y1="337.67" x2="421.57" y2="342.17" class="tk"/><text transform="translate(421.57,349.87) scale(0.84,1)" class="tl" text-anchor="middle">100</text><line x1="445.74" y1="337.67" x2="445.74" y2="342.17" class="tk"/><text transform="translate(445.74,349.87) scale(0.84,1)" class="tl" text-anchor="middle">200</text><line x1="469.90" y1="337.67" x2="469.90" y2="342.17" class="tk"/><text transform="translate(469.90,349.87) scale(0.84,1)" class="tl" text-anchor="middle">300</text><line x1="494.07" y1="337.67" x2="494.07" y2="342.17" class="tk"/><text transform="translate(494.07,349.87) scale(0.84,1)" class="tl" text-anchor="middle">400</text><line x1="518.24" y1="337.67" x2="518.24" y2="342.17" class="tk"/><text transform="translate(518.24,349.87) scale(0.84,1)" class="tl" text-anchor="middle">500</text><line x1="542.41" y1="337.67" x2="542.41" y2="342.17" class="tk"/><text transform="translate(542.41,349.87) scale(0.84,1)" class="tl" text-anchor="middle">600</text><line x1="566.58" y1="337.67" x2="566.58" y2="342.17" class="tk"/><text transform="translate(566.58,349.87) scale(0.84,1)" class="tl" text-anchor="middle">700</text><line x1="590.75" y1="337.67" x2="590.75" y2="342.17" class="tk"/><text transform="translate(590.75,349.87) scale(0.84,1)" class="tl" text-anchor="middle">800</text><line x1="614.91" y1="337.67" x2="614.91" y2="342.17" class="tk"/><text transform="translate(614.91,349.87) scale(0.84,1)" class="tl" text-anchor="middle">900</text><line x1="639.08" y1="337.67" x2="639.08" y2="342.17" class="tk"/><text transform="translate(639.08,349.87) scale(0.84,1)" class="tl" text-anchor="middle">1000</text><line x1="670.50" y1="337.67" x2="670.50" y2="342.17" class="tk"/><text transform="translate(670.50,349.87) scale(0.84,1)" class="tl" text-anchor="middle">1130</text><line x1="379.30" y1="331.73" x2="383.90" y2="331.73" class="tk"/><text transform="translate(374.10,334.63) scale(0.84,1)" class="tl" text-anchor="end">0</text><line x1="379.30" y1="310.83" x2="383.90" y2="310.83" class="tk"/><text transform="translate(374.10,313.73) scale(0.84,1)" class="tl" text-anchor="end">100</text><line x1="379.30" y1="289.93" x2="383.90" y2="289.93" class="tk"/><text transform="translate(374.10,292.83) scale(0.84,1)" class="tl" text-anchor="end">200</text><line x1="379.30" y1="269.03" x2="383.90" y2="269.03" class="tk"/><text transform="translate(374.10,271.93) scale(0.84,1)" class="tl" text-anchor="end">300</text><line x1="379.30" y1="248.12" x2="383.90" y2="248.12" class="tk"/><text transform="translate(374.10,251.02) scale(0.84,1)" class="tl" text-anchor="end">400</text><line x1="379.30" y1="227.22" x2="383.90" y2="227.22" class="tk"/><text transform="translate(374.10,230.12) scale(0.84,1)" class="tl" text-anchor="end">500</text><rect x="386.90" y="210.67" width="70.1" height="45" rx="1.5" class="lgb"/><line x1="389.20" y1="216.67" x2="405.60" y2="216.67" stroke="#ffff00" stroke-width="1.9"/><text x="411.20" y="219.17" class="lg" textLength="18.7" lengthAdjust="spacingAndGlyphs">S-PIN</text><line x1="389.20" y1="227.47" x2="405.60" y2="227.47" stroke="#d2b48c" stroke-width="1.9"/><text x="411.20" y="229.97" class="lg" textLength="20.3" lengthAdjust="spacingAndGlyphs">D-PIN</text><line x1="389.20" y1="237.97" x2="405.60" y2="237.97" stroke="#ffa500" stroke-width="1.9"/><text x="411.20" y="240.47" class="lg" textLength="25.2" lengthAdjust="spacingAndGlyphs">RD-PIN</text><line x1="389.20" y1="248.87" x2="405.60" y2="248.87" stroke="#ff0000" stroke-width="1.9"/><text x="411.20" y="251.37" class="lg" textLength="42.5" lengthAdjust="spacingAndGlyphs">CM-PIN(RD)</text><text transform="translate(533.75,200.37) scale(1,1.1)" class="ti" text-anchor="middle">NC</text><text transform="translate(533.75,364.47) scale(1,1.07)" class="xl" text-anchor="middle">The number of top ranked proteins</text><text transform="translate(357.50,272.37) rotate(-90) scale(1.035,1)" class="yl" text-anchor="middle">The number of essential proteins</text></g>
<g><line x1="49.50" y1="396.64" x2="49.50" y2="527.24" class="gr"/><line x1="73.50" y1="396.64" x2="73.50" y2="527.24" class="gr"/><line x1="98.50" y1="396.64" x2="98.50" y2="527.24" class="gr"/><line x1="122.50" y1="396.64" x2="122.50" y2="527.24" class="gr"/><line x1="146.50" y1="396.64" x2="146.50" y2="527.24" class="gr"/><line x1="170.50" y1="396.64" x2="170.50" y2="527.24" class="gr"/><line x1="194.50" y1="396.64" x2="194.50" y2="527.24" class="gr"/><line x1="218.50" y1="396.64" x2="218.50" y2="527.24" class="gr"/><line x1="242.50" y1="396.64" x2="242.50" y2="527.24" class="gr"/><line x1="267.50" y1="396.64" x2="267.50" y2="527.24" class="gr"/><line x1="291.50" y1="396.64" x2="291.50" y2="527.24" class="gr"/><line x1="322.50" y1="396.64" x2="322.50" y2="527.24" class="gr"/><line x1="36.50" y1="521.50" x2="336.40" y2="521.50" class="gr"/><line x1="36.50" y1="500.50" x2="336.40" y2="500.50" class="gr"/><line x1="36.50" y1="478.50" x2="336.40" y2="478.50" class="gr"/><line x1="36.50" y1="457.50" x2="336.40" y2="457.50" class="gr"/><line x1="36.50" y1="436.50" x2="336.40" y2="436.50" class="gr"/><line x1="36.50" y1="415.50" x2="336.40" y2="415.50" class="gr"/><polyline points="49.75,521.30 52.16,519.89 54.58,518.54 56.99,517.26 59.41,516.05 61.82,514.93 64.24,513.87 66.65,512.86 69.07,511.91 71.48,511.04 73.90,510.26 76.31,509.60 78.73,509.03 81.14,508.49 83.55,507.93 85.97,507.29 88.38,506.51 90.80,505.62 93.21,504.70 95.63,503.82 98.04,503.04 100.46,502.40 102.87,501.84 105.29,501.30 107.70,500.73 110.12,500.06 112.53,499.27 114.94,498.35 117.36,497.38 119.77,496.37 122.19,495.39 124.60,494.44 127.02,493.47 129.43,492.50 131.85,491.51 134.26,490.51 136.68,489.44 139.09,488.32 141.50,487.20 143.92,486.14 146.33,485.20 148.75,484.40 151.16,483.68 153.58,483.01 155.99,482.32 158.41,481.59 160.82,480.77 163.24,479.92 165.65,479.04 168.07,478.17 170.48,477.34 172.89,476.56 175.31,475.81 177.72,475.07 180.14,474.31 182.55,473.52 184.97,472.67 187.38,471.78 189.80,470.87 192.21,469.96 194.63,469.06 197.04,468.16 199.46,467.27 201.87,466.38 204.28,465.49 206.70,464.59 209.11,463.69 211.53,462.77 213.94,461.85 216.36,460.97 218.77,460.13 221.19,459.38 223.60,458.69 226.02,458.01 228.43,457.30 230.85,456.52 233.26,455.60 235.67,454.56 238.09,453.49 240.50,452.49 242.92,451.64 245.33,450.95 247.75,450.36 250.16,449.80 252.58,449.25 254.99,448.67 257.41,448.06 259.82,447.46 262.23,446.84 264.65,446.19 267.06,445.48 269.48,444.68 271.89,443.80 274.31,442.87 276.72,441.94 279.14,441.02 281.55,440.11 283.97,439.17 286.38,438.25 288.80,437.37 291.21,436.56 293.62,435.83 296.04,435.15 298.45,434.51 300.87,433.88 303.28,433.26 305.70,432.63 308.11,431.98 310.53,431.33 312.94,430.68 315.36,430.02 317.77,429.37 320.19,428.72 322.60,428.06" fill="none" stroke="#ffff00" class="cv"/><polyline points="49.75,521.30 52.16,519.78 54.58,518.31 56.99,516.91 59.41,515.57 61.82,514.29 64.24,513.06 66.65,511.85 69.07,510.71 71.48,509.67 73.90,508.77 76.31,508.05 78.73,507.44 81.14,506.88 83.55,506.28 85.97,505.59 88.38,504.72 90.80,503.71 93.21,502.65 95.63,501.62 98.04,500.70 100.46,499.93 102.87,499.24 105.29,498.57 107.70,497.87 110.12,497.09 112.53,496.17 114.94,495.14 117.36,494.07 119.77,493.00 122.19,491.99 124.60,491.07 127.02,490.20 129.43,489.33 131.85,488.45 134.26,487.53 136.68,486.51 139.09,485.41 141.50,484.31 143.92,483.29 146.33,482.44 148.75,481.77 151.16,481.21 153.58,480.69 155.99,480.13 158.41,479.46 160.82,478.57 163.24,477.49 165.65,476.34 168.07,475.26 170.48,474.36 172.89,473.67 175.31,473.06 177.72,472.51 180.14,471.96 182.55,471.39 184.97,470.81 187.38,470.24 189.80,469.66 192.21,469.06 194.63,468.42 197.04,467.73 199.46,467.01 201.87,466.25 204.28,465.44 206.70,464.59 209.11,463.64 211.53,462.58 213.94,461.48 216.36,460.43 218.77,459.50 221.19,458.70 223.60,457.97 226.02,457.29 228.43,456.60 230.85,455.89 233.26,455.12 235.67,454.33 238.09,453.53 240.50,452.77 242.92,452.06 245.33,451.42 247.75,450.82 250.16,450.24 252.58,449.67 254.99,449.09 257.41,448.51 259.82,447.96 262.23,447.39 264.65,446.79 267.06,446.12 269.48,445.34 271.89,444.45 274.31,443.51 276.72,442.56 279.14,441.66 281.55,440.77 283.97,439.87 286.38,438.99 288.80,438.16 291.21,437.41 293.62,436.75 296.04,436.14 298.45,435.58 300.87,435.03 303.28,434.48 305.70,433.89 308.11,433.27 310.53,432.62 312.94,431.95 315.36,431.27 317.77,430.57 320.19,429.85 322.60,429.13" fill="none" stroke="#d2b48c" class="cv"/><polyline points="49.75,521.30 52.16,519.68 54.58,518.12 56.99,516.62 59.41,515.21 61.82,513.87 64.24,512.59 66.65,511.34 69.07,510.17 71.48,509.09 73.90,508.14 76.31,507.34 78.73,506.66 81.14,506.02 83.55,505.33 85.97,504.52 88.38,503.51 90.80,502.31 93.21,501.03 95.63,499.76 98.04,498.58 100.46,497.53 102.87,496.54 105.29,495.57 107.70,494.57 110.12,493.48 112.53,492.23 114.94,490.85 117.36,489.43 119.77,488.08 122.19,486.90 124.60,485.93 127.02,485.10 129.43,484.30 131.85,483.44 134.26,482.44 136.68,481.14 139.09,479.60 141.50,477.95 143.92,476.37 146.33,475.00 148.75,473.85 151.16,472.79 153.58,471.80 155.99,470.85 158.41,469.90 160.82,468.96 163.24,468.04 165.65,467.15 168.07,466.28 170.48,465.44 172.89,464.66 175.31,463.93 177.72,463.20 180.14,462.45 182.55,461.62 184.97,460.65 187.38,459.56 189.80,458.44 192.21,457.40 194.63,456.52 197.04,455.85 199.46,455.28 201.87,454.75 204.28,454.20 206.70,453.55 209.11,452.78 211.53,451.92 213.94,451.00 216.36,450.05 218.77,449.09 221.19,448.10 223.60,447.07 226.02,446.02 228.43,444.98 230.85,443.99 233.26,442.99 235.67,441.95 238.09,440.97 240.50,440.13 242.92,439.53 245.33,439.17 247.75,438.92 250.16,438.70 252.58,438.44 254.99,438.05 257.41,437.25 259.82,435.99 262.23,434.50 264.65,433.05 267.06,431.89 269.48,431.00 271.89,430.21 274.31,429.47 276.72,428.77 279.14,428.06 281.55,427.38 283.97,426.74 286.38,426.10 288.80,425.42 291.21,424.67 293.62,423.79 296.04,422.80 298.45,421.74 300.87,420.65 303.28,419.58 305.70,418.56 308.11,417.62 310.53,416.72 312.94,415.84 315.36,414.98 317.77,414.15 320.19,413.34 322.60,412.56" fill="none" stroke="#ffa500" class="cv"/><polyline points="49.75,521.30 52.16,519.51 54.58,517.80 56.99,516.18 59.41,514.66 61.82,513.23 64.24,511.92 66.65,510.71 69.07,509.56 71.48,508.43 73.90,507.29 76.31,506.14 78.73,505.01 81.14,503.89 83.55,502.75 85.97,501.55 88.38,500.28 90.80,498.95 93.21,497.60 95.63,496.26 98.04,494.97 100.46,493.77 102.87,492.63 105.29,491.50 107.70,490.32 110.12,489.02 112.53,487.48 114.94,485.73 117.36,483.93 119.77,482.28 122.19,480.95 124.60,479.94 127.02,479.08 129.43,478.30 131.85,477.53 134.26,476.70 136.68,475.79 139.09,474.85 141.50,473.90 143.92,472.96 146.33,472.03 148.75,471.14 151.16,470.29 153.58,469.43 155.99,468.54 158.41,467.57 160.82,466.44 163.24,465.17 165.65,463.87 168.07,462.65 170.48,461.62 172.89,460.81 175.31,460.13 177.72,459.50 180.14,458.82 182.55,458.01 184.97,456.98 187.38,455.76 189.80,454.46 192.21,453.19 194.63,452.06 197.04,451.11 199.46,450.23 201.87,449.39 204.28,448.54 206.70,447.60 209.11,446.59 211.53,445.52 213.94,444.40 216.36,443.26 218.77,442.08 221.19,440.83 223.60,439.50 226.02,438.16 228.43,436.87 230.85,435.71 233.26,434.70 235.67,433.77 238.09,432.89 240.50,432.00 242.92,431.04 245.33,430.01 247.75,428.96 250.16,427.86 252.58,426.72 254.99,425.51 257.41,424.19 259.82,422.75 262.23,421.27 264.65,419.83 267.06,418.51 269.48,417.30 271.89,416.15 274.31,415.04 276.72,413.99 279.14,412.98 281.55,412.00 283.97,411.05 286.38,410.13 288.80,409.29 291.21,408.52 293.62,407.83 296.04,407.18 298.45,406.56 300.87,405.98 303.28,405.44 305.70,404.94 308.11,404.47 310.53,404.02 312.94,403.59 315.36,403.18 317.77,402.81 320.19,402.46 322.60,402.15" fill="none" stroke="#ff0000" class="cv"/><rect x="36.50" y="396.64" width="299.90" height="130.60" class="sp"/><line x1="49.75" y1="527.24" x2="49.75" y2="531.74" class="tk"/><text transform="translate(49.75,539.44) scale(0.84,1)" class="tl" text-anchor="middle">0</text><line x1="73.90" y1="527.24" x2="73.90" y2="531.74" class="tk"/><text transform="translate(73.90,539.44) scale(0.84,1)" class="tl" text-anchor="middle">100</text><line x1="98.04" y1="527.24" x2="98.04" y2="531.74" class="tk"/><text transform="translate(98.04,539.44) scale(0.84,1)" class="tl" text-anchor="middle">200</text><line x1="122.19" y1="527.24" x2="122.19" y2="531.74" class="tk"/><text transform="translate(122.19,539.44) scale(0.84,1)" class="tl" text-anchor="middle">300</text><line x1="146.33" y1="527.24" x2="146.33" y2="531.74" class="tk"/><text transform="translate(146.33,539.44) scale(0.84,1)" class="tl" text-anchor="middle">400</text><line x1="170.48" y1="527.24" x2="170.48" y2="531.74" class="tk"/><text transform="translate(170.48,539.44) scale(0.84,1)" class="tl" text-anchor="middle">500</text><line x1="194.63" y1="527.24" x2="194.63" y2="531.74" class="tk"/><text transform="translate(194.63,539.44) scale(0.84,1)" class="tl" text-anchor="middle">600</text><line x1="218.77" y1="527.24" x2="218.77" y2="531.74" class="tk"/><text transform="translate(218.77,539.44) scale(0.84,1)" class="tl" text-anchor="middle">700</text><line x1="242.92" y1="527.24" x2="242.92" y2="531.74" class="tk"/><text transform="translate(242.92,539.44) scale(0.84,1)" class="tl" text-anchor="middle">800</text><line x1="267.06" y1="527.24" x2="267.06" y2="531.74" class="tk"/><text transform="translate(267.06,539.44) scale(0.84,1)" class="tl" text-anchor="middle">900</text><line x1="291.21" y1="527.24" x2="291.21" y2="531.74" class="tk"/><text transform="translate(291.21,539.44) scale(0.84,1)" class="tl" text-anchor="middle">1000</text><line x1="322.60" y1="527.24" x2="322.60" y2="531.74" class="tk"/><text transform="translate(322.60,539.44) scale(0.84,1)" class="tl" text-anchor="middle">1130</text><line x1="31.90" y1="521.30" x2="36.50" y2="521.30" class="tk"/><text transform="translate(26.70,524.20) scale(0.84,1)" class="tl" text-anchor="end">0</text><line x1="31.90" y1="500.06" x2="36.50" y2="500.06" class="tk"/><text transform="translate(26.70,502.96) scale(0.84,1)" class="tl" text-anchor="end">100</text><line x1="31.90" y1="478.83" x2="36.50" y2="478.83" class="tk"/><text transform="translate(26.70,481.73) scale(0.84,1)" class="tl" text-anchor="end">200</text><line x1="31.90" y1="457.59" x2="36.50" y2="457.59" class="tk"/><text transform="translate(26.70,460.49) scale(0.84,1)" class="tl" text-anchor="end">300</text><line x1="31.90" y1="436.35" x2="36.50" y2="436.35" class="tk"/><text transform="translate(26.70,439.25) scale(0.84,1)" class="tl" text-anchor="end">400</text><line x1="31.90" y1="415.11" x2="36.50" y2="415.11" class="tk"/><text transform="translate(26.70,418.01) scale(0.84,1)" class="tl" text-anchor="end">500</text><rect x="39.50" y="400.24" width="70.1" height="45" rx="1.5" class="lgb"/><line x1="41.80" y1="406.24" x2="58.20" y2="406.24" stroke="#ffff00" stroke-width="1.9"/><text x="63.80" y="408.74" class="lg" textLength="18.7" lengthAdjust="spacingAndGlyphs">S-PIN</text><line x1="41.80" y1="417.04" x2="58.20" y2="417.04" stroke="#d2b48c" stroke-width="1.9"/><text x="63.80" y="419.54" class="lg" textLength="20.3" lengthAdjust="spacingAndGlyphs">D-PIN</text><line x1="41.80" y1="427.54" x2="58.20" y2="427.54" stroke="#ffa500" stroke-width="1.9"/><text x="63.80" y="430.04" class="lg" textLength="25.2" lengthAdjust="spacingAndGlyphs">RD-PIN</text><line x1="41.80" y1="438.44" x2="58.20" y2="438.44" stroke="#ff0000" stroke-width="1.9"/><text x="63.80" y="440.94" class="lg" textLength="42.5" lengthAdjust="spacingAndGlyphs">CM-PIN(RD)</text><text transform="translate(186.45,389.94) scale(1,1.1)" class="ti" text-anchor="middle">BC</text><text transform="translate(186.45,554.04) scale(1,1.07)" class="xl" text-anchor="middle">The number of top ranked proteins</text><text transform="translate(10.10,461.94) rotate(-90) scale(1.035,1)" class="yl" text-anchor="middle">The number of essential proteins</text></g>
<g><line x1="397.50" y1="396.64" x2="397.50" y2="527.24" class="gr"/><line x1="421.50" y1="396.64" x2="421.50" y2="527.24" class="gr"/><line x1="445.50" y1="396.64" x2="445.50" y2="527.24" class="gr"/><line x1="469.50" y1="396.64" x2="469.50" y2="527.24" class="gr"/><line x1="494.50" y1="396.64" x2="494.50" y2="527.24" class="gr"/><line x1="518.50" y1="396.64" x2="518.50" y2="527.24" class="gr"/><line x1="542.50" y1="396.64" x2="542.50" y2="527.24" class="gr"/><line x1="566.50" y1="396.64" x2="566.50" y2="527.24" class="gr"/><line x1="590.50" y1="396.64" x2="590.50" y2="527.24" class="gr"/><line x1="614.50" y1="396.64" x2="614.50" y2="527.24" class="gr"/><line x1="639.50" y1="396.64" x2="639.50" y2="527.24" class="gr"/><line x1="670.50" y1="396.64" x2="670.50" y2="527.24" class="gr"/><line x1="383.90" y1="521.50" x2="683.60" y2="521.50" class="gr"/><line x1="383.90" y1="499.50" x2="683.60" y2="499.50" class="gr"/><line x1="383.90" y1="477.50" x2="683.60" y2="477.50" class="gr"/><line x1="383.90" y1="455.50" x2="683.60" y2="455.50" class="gr"/><line x1="383.90" y1="433.50" x2="683.60" y2="433.50" class="gr"/><line x1="383.90" y1="411.50" x2="683.60" y2="411.50" class="gr"/><polyline points="397.40,521.30 399.82,519.99 402.23,518.67 404.65,517.35 407.07,516.04 409.48,514.72 411.90,513.37 414.32,511.99 416.73,510.62 419.15,509.32 421.57,508.14 423.98,507.07 426.40,506.09 428.82,505.15 431.24,504.24 433.65,503.31 436.07,502.37 438.49,501.44 440.90,500.52 443.32,499.60 445.74,498.70 448.15,497.81 450.57,496.93 452.99,496.06 455.40,495.18 457.82,494.31 460.24,493.43 462.65,492.55 465.07,491.68 467.49,490.80 469.90,489.92 472.32,489.04 474.74,488.17 477.15,487.29 479.57,486.41 481.99,485.53 484.41,484.65 486.82,483.78 489.24,482.90 491.66,482.02 494.07,481.14 496.49,480.28 498.91,479.43 501.32,478.57 503.74,477.68 506.16,476.75 508.57,475.75 510.99,474.67 513.41,473.57 515.82,472.49 518.24,471.49 520.66,470.56 523.07,469.67 525.49,468.81 527.91,467.96 530.32,467.10 532.74,466.22 535.16,465.34 537.58,464.46 539.99,463.59 542.41,462.71 544.83,461.81 547.24,460.91 549.66,460.00 552.08,459.13 554.49,458.32 556.91,457.57 559.33,456.87 561.74,456.19 564.16,455.51 566.58,454.81 568.99,454.07 571.41,453.31 573.83,452.55 576.24,451.80 578.66,451.08 581.08,450.39 583.49,449.72 585.91,449.07 588.33,448.42 590.75,447.78 593.16,447.15 595.58,446.53 598.00,445.91 600.41,445.31 602.83,444.71 605.25,444.15 607.66,443.61 610.08,443.08 612.50,442.50 614.91,441.86 617.33,441.09 619.75,440.20 622.16,439.26 624.58,438.33 627.00,437.47 629.41,436.67 631.83,435.90 634.25,435.15 636.66,434.43 639.08,433.74 641.50,433.09 643.92,432.46 646.33,431.86 648.75,431.27 651.17,430.68 653.58,430.09 656.00,429.49 658.42,428.88 660.83,428.27 663.25,427.66 665.67,427.05 668.08,426.45 670.50,425.84" fill="none" stroke="#ffff00" class="cv"/><polyline points="397.40,521.30 399.82,519.79 402.23,518.29 404.65,516.80 407.07,515.32 409.48,513.84 411.90,512.36 414.32,510.86 416.73,509.38 419.15,507.95 421.57,506.60 423.98,505.34 426.40,504.13 428.82,502.97 431.24,501.83 433.65,500.67 436.07,499.48 438.49,498.26 440.90,497.07 443.32,495.95 445.74,494.97 448.15,494.12 450.57,493.35 452.99,492.64 455.40,491.94 457.82,491.24 460.24,490.53 462.65,489.83 465.07,489.14 467.49,488.44 469.90,487.73 472.32,487.01 474.74,486.30 477.15,485.58 479.57,484.82 481.99,484.00 484.41,483.07 486.82,482.05 489.24,480.99 491.66,479.94 494.07,478.95 496.49,478.01 498.91,477.07 501.32,476.17 503.74,475.33 506.16,474.56 508.57,473.87 510.99,473.24 513.41,472.65 515.82,472.07 518.24,471.49 520.66,470.92 523.07,470.39 525.49,469.85 527.91,469.28 530.32,468.63 532.74,467.86 535.16,466.98 537.58,466.04 539.99,465.11 542.41,464.24 544.83,463.48 547.24,462.76 549.66,462.06 552.08,461.32 554.49,460.51 556.91,459.59 559.33,458.57 561.74,457.51 564.16,456.45 566.58,455.47 568.99,454.56 571.41,453.71 573.83,452.87 576.24,452.01 578.66,451.08 581.08,449.98 583.49,448.74 585.91,447.50 588.33,446.41 590.75,445.59 593.16,445.04 595.58,444.61 598.00,444.24 600.41,443.85 602.83,443.40 605.25,442.86 607.66,442.29 610.08,441.68 612.50,441.02 614.91,440.32 617.33,439.54 619.75,438.68 622.16,437.76 624.58,436.84 627.00,435.93 629.41,435.02 631.83,434.08 634.25,433.16 636.66,432.29 639.08,431.54 641.50,430.90 643.92,430.32 646.33,429.78 648.75,429.27 651.17,428.78 653.58,428.28 656.00,427.78 658.42,427.29 660.83,426.80 663.25,426.33 665.67,425.86 668.08,425.41 670.50,424.96" fill="none" stroke="#d2b48c" class="cv"/><polyline points="397.40,521.30 399.82,519.71 402.23,518.12 404.65,516.54 407.07,514.97 409.48,513.40 411.90,511.83 414.32,510.26 416.73,508.70 419.15,507.18 421.57,505.72 423.98,504.35 426.40,503.05 428.82,501.77 431.24,500.48 433.65,499.14 436.07,497.65 438.49,496.05 440.90,494.46 443.32,493.03 445.74,491.90 448.15,491.08 450.57,490.43 452.99,489.85 455.40,489.20 457.82,488.38 460.24,487.20 462.65,485.68 465.07,484.02 467.49,482.44 469.90,481.14 472.32,480.14 474.74,479.27 477.15,478.46 479.57,477.65 481.99,476.75 484.41,475.73 486.82,474.61 489.24,473.49 491.66,472.42 494.07,471.49 496.49,470.74 498.91,470.11 501.32,469.51 503.74,468.83 506.16,467.98 508.57,466.70 510.99,465.01 513.41,463.14 515.82,461.34 518.24,459.86 520.66,458.73 523.07,457.78 525.49,456.88 527.91,455.93 530.32,454.81 532.74,453.37 535.16,451.65 537.58,449.84 539.99,448.13 542.41,446.69 544.83,445.54 547.24,444.53 549.66,443.59 552.08,442.65 554.49,441.64 556.91,440.52 559.33,439.34 561.74,438.14 564.16,436.99 566.58,435.93 568.99,434.95 571.41,434.01 573.83,433.11 576.24,432.29 578.66,431.54 581.08,430.92 583.49,430.37 585.91,429.86 588.33,429.32 590.75,428.69 593.16,427.92 595.58,427.04 598.00,426.10 600.41,425.16 602.83,424.30 605.25,423.53 607.66,422.80 610.08,422.08 612.50,421.35 614.91,420.57 617.33,419.72 619.75,418.82 622.16,417.90 624.58,417.01 627.00,416.18 629.41,415.42 631.83,414.69 634.25,413.99 636.66,413.32 639.08,412.67 641.50,412.07 643.92,411.50 646.33,410.96 648.75,410.42 651.17,409.86 653.58,409.26 656.00,408.61 658.42,407.91 660.83,407.17 663.25,406.40 665.67,405.59 668.08,404.76 670.50,403.89" fill="none" stroke="#ffa500" class="cv"/><polyline points="397.40,521.30 399.82,519.66 402.23,518.03 404.65,516.41 407.07,514.79 409.48,513.18 411.90,511.57 414.32,509.94 416.73,508.33 419.15,506.77 421.57,505.28 423.98,503.90 426.40,502.60 428.82,501.33 431.24,500.05 433.65,498.70 436.07,497.18 438.49,495.52 440.90,493.88 443.32,492.40 445.74,491.24 448.15,490.41 450.57,489.77 452.99,489.19 455.40,488.55 457.82,487.73 460.24,486.52 462.65,484.94 465.07,483.23 467.49,481.60 469.90,480.26 472.32,479.28 474.74,478.45 477.15,477.68 479.57,476.85 481.99,475.88 484.41,474.64 486.82,473.20 489.24,471.65 491.66,470.09 494.07,468.63 496.49,467.29 498.91,465.98 501.32,464.70 503.74,463.40 506.16,462.05 508.57,460.63 510.99,459.17 513.41,457.69 515.82,456.22 518.24,454.81 520.66,453.46 523.07,452.15 525.49,450.86 527.91,449.56 530.32,448.22 532.74,446.78 535.16,445.24 537.58,443.72 539.99,442.34 542.41,441.20 544.83,440.32 547.24,439.57 549.66,438.90 552.08,438.22 554.49,437.47 556.91,436.64 559.33,435.77 561.74,434.87 564.16,433.97 566.58,433.08 568.99,432.19 571.41,431.29 573.83,430.40 576.24,429.52 578.66,428.69 581.08,427.93 583.49,427.22 585.91,426.53 588.33,425.79 590.75,424.96 593.16,423.95 595.58,422.79 598.00,421.57 600.41,420.43 602.83,419.47 605.25,418.71 607.66,418.05 610.08,417.44 612.50,416.83 614.91,416.18 617.33,415.49 619.75,414.77 622.16,414.05 624.58,413.35 627.00,412.67 629.41,412.01 631.83,411.34 634.25,410.70 636.66,410.11 639.08,409.60 641.50,409.17 643.92,408.81 646.33,408.48 648.75,408.16 651.17,407.81 653.58,407.41 656.00,406.94 658.42,406.39 660.83,405.77 663.25,405.10 665.67,404.38 668.08,403.61 670.50,402.80" fill="none" stroke="#ff0000" class="cv"/><rect x="383.90" y="396.64" width="299.70" height="130.60" class="sp"/><line x1="397.40" y1="527.24" x2="397.40" y2="531.74" class="tk"/><text transform="translate(397.40,539.44) scale(0.84,1)" class="tl" text-anchor="middle">0</text><line x1="421.57" y1="527.24" x2="421.57" y2="531.74" class="tk"/><text transform="translate(421.57,539.44) scale(0.84,1)" class="tl" text-anchor="middle">100</text><line x1="445.74" y1="527.24" x2="445.74" y2="531.74" class="tk"/><text transform="translate(445.74,539.44) scale(0.84,1)" class="tl" text-anchor="middle">200</text><line x1="469.90" y1="527.24" x2="469.90" y2="531.74" class="tk"/><text transform="translate(469.90,539.44) scale(0.84,1)" class="tl" text-anchor="middle">300</text><line x1="494.07" y1="527.24" x2="494.07" y2="531.74" class="tk"/><text transform="translate(494.07,539.44) scale(0.84,1)" class="tl" text-anchor="middle">400</text><line x1="518.24" y1="527.24" x2="518.24" y2="531.74" class="tk"/><text transform="translate(518.24,539.44) scale(0.84,1)" class="tl" text-anchor="middle">500</text><line x1="542.41" y1="527.24" x2="542.41" y2="531.74" class="tk"/><text transform="translate(542.41,539.44) scale(0.84,1)" class="tl" text-anchor="middle">600</text><line x1="566.58" y1="527.24" x2="566.58" y2="531.74" class="tk"/><text transform="translate(566.58,539.44) scale(0.84,1)" class="tl" text-anchor="middle">700</text><line x1="590.75" y1="527.24" x2="590.75" y2="531.74" class="tk"/><text transform="translate(590.75,539.44) scale(0.84,1)" class="tl" text-anchor="middle">800</text><line x1="614.91" y1="527.24" x2="614.91" y2="531.74" class="tk"/><text transform="translate(614.91,539.44) scale(0.84,1)" class="tl" text-anchor="middle">900</text><line x1="639.08" y1="527.24" x2="639.08" y2="531.74" class="tk"/><text transform="translate(639.08,539.44) scale(0.84,1)" class="tl" text-anchor="middle">1000</text><line x1="670.50" y1="527.24" x2="670.50" y2="531.74" class="tk"/><text transform="translate(670.50,539.44) scale(0.84,1)" class="tl" text-anchor="middle">1130</text><line x1="379.30" y1="521.30" x2="383.90" y2="521.30" class="tk"/><text transform="translate(374.10,524.20) scale(0.84,1)" class="tl" text-anchor="end">0</text><line x1="379.30" y1="499.36" x2="383.90" y2="499.36" class="tk"/><text transform="translate(374.10,502.26) scale(0.84,1)" class="tl" text-anchor="end">100</text><line x1="379.30" y1="477.41" x2="383.90" y2="477.41" class="tk"/><text transform="translate(374.10,480.31) scale(0.84,1)" class="tl" text-anchor="end">200</text><line x1="379.30" y1="455.47" x2="383.90" y2="455.47" class="tk"/><text transform="translate(374.10,458.37) scale(0.84,1)" class="tl" text-anchor="end">300</text><line x1="379.30" y1="433.52" x2="383.90" y2="433.52" class="tk"/><text transform="translate(374.10,436.42) scale(0.84,1)" class="tl" text-anchor="end">400</text><line x1="379.30" y1="411.57" x2="383.90" y2="411.57" class="tk"/><text transform="translate(374.10,414.47) scale(0.84,1)" class="tl" text-anchor="end">500</text><rect x="386.90" y="400.24" width="70.1" height="45" rx="1.5" class="lgb"/><line x1="389.20" y1="406.24" x2="405.60" y2="406.24" stroke="#ffff00" stroke-width="1.9"/><text x="411.20" y="408.74" class="lg" textLength="18.7" lengthAdjust="spacingAndGlyphs">S-PIN</text><line x1="389.20" y1="417.04" x2="405.60" y2="417.04" stroke="#d2b48c" stroke-width="1.9"/><text x="411.20" y="419.54" class="lg" textLength="20.3" lengthAdjust="spacingAndGlyphs">D-PIN</text><line x1="389.20" y1="427.54" x2="405.60" y2="427.54" stroke="#ffa500" stroke-width="1.9"/><text x="411.20" y="430.04" class="lg" textLength="25.2" lengthAdjust="spacingAndGlyphs">RD-PIN</text><line x1="389.20" y1="438.44" x2="405.60" y2="438.44" stroke="#ff0000" stroke-width="1.9"/><text x="411.20" y="440.94" class="lg" textLength="42.5" lengthAdjust="spacingAndGlyphs">CM-PIN(RD)</text><text transform="translate(533.75,389.94) scale(1,1.1)" class="ti" text-anchor="middle">CC</text><text transform="translate(533.75,554.04) scale(1,1.07)" class="xl" text-anchor="middle">The number of top ranked proteins</text><text transform="translate(357.50,461.94) rotate(-90) scale(1.035,1)" class="yl" text-anchor="middle">The number of essential proteins</text></g>
<g><line x1="49.50" y1="586.21" x2="49.50" y2="716.81" class="gr"/><line x1="73.50" y1="586.21" x2="73.50" y2="716.81" class="gr"/><line x1="98.50" y1="586.21" x2="98.50" y2="716.81" class="gr"/><line x1="122.50" y1="586.21" x2="122.50" y2="716.81" class="gr"/><line x1="146.50" y1="586.21" x2="146.50" y2="716.81" class="gr"/><line x1="170.50" y1="586.21" x2="170.50" y2="716.81" class="gr"/><line x1="194.50" y1="586.21" x2="194.50" y2="716.81" class="gr"/><line x1="218.50" y1="586.21" x2="218.50" y2="716.81" class="gr"/><line x1="242.50" y1="586.21" x2="242.50" y2="716.81" class="gr"/><line x1="267.50" y1="586.21" x2="267.50" y2="716.81" class="gr"/><line x1="291.50" y1="586.21" x2="291.50" y2="716.81" class="gr"/><line x1="322.50" y1="586.21" x2="322.50" y2="716.81" class="gr"/><line x1="36.50" y1="710.50" x2="336.40" y2="710.50" class="gr"/><line x1="36.50" y1="687.50" x2="336.40" y2="687.50" class="gr"/><line x1="36.50" y1="665.50" x2="336.40" y2="665.50" class="gr"/><line x1="36.50" y1="642.50" x2="336.40" y2="642.50" class="gr"/><line x1="36.50" y1="619.50" x2="336.40" y2="619.50" class="gr"/><line x1="36.50" y1="596.50" x2="336.40" y2="596.50" class="gr"/><polyline points="49.75,710.87 52.16,709.00 54.58,707.19 56.99,705.44 59.41,703.77 61.82,702.16 64.24,700.59 66.65,699.04 69.07,697.56 71.48,696.22 73.90,695.06 76.31,694.09 78.73,693.24 81.14,692.46 83.55,691.71 85.97,690.93 88.38,690.16 90.80,689.41 93.21,688.66 95.63,687.88 98.04,687.04 100.46,686.11 102.87,685.12 105.29,684.09 107.70,683.04 110.12,681.99 112.53,680.95 114.94,679.90 117.36,678.84 119.77,677.78 122.19,676.72 124.60,675.68 127.02,674.63 129.43,673.59 131.85,672.53 134.26,671.45 136.68,670.31 139.09,669.10 141.50,667.90 143.92,666.75 146.33,665.72 148.75,664.81 151.16,663.96 153.58,663.16 155.99,662.38 158.41,661.59 160.82,660.80 163.24,660.03 165.65,659.26 168.07,658.49 170.48,657.70 172.89,656.90 175.31,656.11 177.72,655.31 180.14,654.47 182.55,653.57 184.97,652.55 187.38,651.40 189.80,650.23 192.21,649.16 194.63,648.30 197.04,647.64 199.46,647.07 201.87,646.55 204.28,646.06 206.70,645.55 209.11,645.03 211.53,644.51 213.94,644.01 216.36,643.51 218.77,643.03 221.19,642.58 223.60,642.16 226.02,641.74 228.43,641.28 230.85,640.74 233.26,640.03 235.67,639.14 238.09,638.21 240.50,637.32 242.92,636.61 245.33,636.08 247.75,635.63 250.16,635.22 252.58,634.80 254.99,634.32 257.41,633.77 259.82,633.17 262.23,632.55 264.65,631.93 267.06,631.34 269.48,630.77 271.89,630.21 274.31,629.66 276.72,629.12 279.14,628.59 281.55,628.08 283.97,627.59 286.38,627.11 288.80,626.60 291.21,626.07 293.62,625.49 296.04,624.88 298.45,624.24 300.87,623.59 303.28,622.93 305.70,622.27 308.11,621.62 310.53,620.96 312.94,620.30 315.36,619.63 317.77,618.95 320.19,618.27 322.60,617.59" fill="none" stroke="#ffff00" class="cv"/><polyline points="49.75,710.87 52.16,708.89 54.58,706.98 56.99,705.14 59.41,703.38 61.82,701.71 64.24,700.07 66.65,698.46 69.07,696.93 71.48,695.55 73.90,694.37 76.31,693.40 78.73,692.55 81.14,691.78 83.55,691.03 85.97,690.25 88.38,689.43 90.80,688.63 93.21,687.83 95.63,687.00 98.04,686.12 100.46,685.18 102.87,684.19 105.29,683.16 107.70,682.12 110.12,681.08 112.53,680.04 114.94,679.00 117.36,677.94 119.77,676.88 122.19,675.81 124.60,674.73 127.02,673.64 129.43,672.55 131.85,671.44 134.26,670.30 136.68,669.10 139.09,667.82 141.50,666.55 143.92,665.36 146.33,664.35 148.75,663.50 151.16,662.75 153.58,662.06 155.99,661.38 158.41,660.68 160.82,659.94 163.24,659.21 165.65,658.48 168.07,657.74 170.48,657.01 172.89,656.29 175.31,655.57 177.72,654.86 180.14,654.12 182.55,653.34 184.97,652.49 187.38,651.58 189.80,650.65 192.21,649.77 194.63,648.99 197.04,648.32 199.46,647.72 201.87,647.15 204.28,646.59 206.70,646.01 209.11,645.41 211.53,644.81 213.94,644.20 216.36,643.61 218.77,643.03 221.19,642.49 223.60,642.00 226.02,641.49 228.43,640.94 230.85,640.28 233.26,639.36 235.67,638.19 238.09,636.94 240.50,635.82 242.92,635.01 245.33,634.49 247.75,634.09 250.16,633.74 252.58,633.38 254.99,632.94 257.41,632.42 259.82,631.83 262.23,631.21 264.65,630.58 267.06,629.96 269.48,629.37 271.89,628.77 274.31,628.18 276.72,627.58 279.14,626.99 281.55,626.39 283.97,625.81 286.38,625.22 288.80,624.62 291.21,624.01 293.62,623.38 296.04,622.74 298.45,622.10 300.87,621.44 303.28,620.75 305.70,620.03 308.11,619.26 310.53,618.46 312.94,617.62 315.36,616.75 317.77,615.84 320.19,614.89 322.60,613.92" fill="none" stroke="#d2b48c" class="cv"/><polyline points="49.75,710.87 52.16,708.60 54.58,706.43 56.99,704.36 59.41,702.40 61.82,700.56 64.24,698.81 66.65,697.14 69.07,695.56 71.48,694.10 73.90,692.77 76.31,691.58 78.73,690.50 81.14,689.49 83.55,688.50 85.97,687.49 88.38,686.49 90.80,685.53 93.21,684.56 95.63,683.55 98.04,682.45 100.46,681.24 102.87,679.93 105.29,678.55 107.70,677.16 110.12,675.81 112.53,674.41 114.94,672.96 117.36,671.54 119.77,670.24 122.19,669.16 124.60,668.29 127.02,667.53 129.43,666.84 131.85,666.18 134.26,665.49 136.68,664.79 139.09,664.11 141.50,663.43 143.92,662.75 146.33,662.05 148.75,661.34 151.16,660.61 153.58,659.88 155.99,659.14 158.41,658.39 160.82,657.64 163.24,656.88 165.65,656.12 168.07,655.33 170.48,654.49 172.89,653.61 175.31,652.68 177.72,651.71 180.14,650.71 182.55,649.68 184.97,648.57 187.38,647.38 189.80,646.17 192.21,645.01 194.63,643.95 197.04,643.00 199.46,642.13 201.87,641.29 204.28,640.46 206.70,639.59 209.11,638.65 211.53,637.66 213.94,636.69 216.36,635.78 218.77,635.01 221.19,634.41 223.60,633.92 226.02,633.47 228.43,632.94 230.85,632.26 233.26,631.13 235.67,629.54 238.09,627.81 240.50,626.24 242.92,625.15 245.33,624.52 247.75,624.05 250.16,623.64 252.58,623.20 254.99,622.63 257.41,621.86 259.82,620.92 262.23,619.87 264.65,618.74 267.06,617.59 269.48,616.31 271.89,614.88 274.31,613.41 276.72,612.05 279.14,610.94 281.55,610.09 283.97,609.38 286.38,608.72 288.80,608.05 291.21,607.27 293.62,606.28 296.04,605.07 298.45,603.78 300.87,602.55 303.28,601.52 305.70,600.81 308.11,600.51 310.53,600.28 312.94,600.09 315.36,599.93 317.77,599.81 320.19,599.74 322.60,599.71" fill="none" stroke="#ffa500" class="cv"/><polyline points="49.75,710.87 52.16,708.49 54.58,706.22 56.99,704.05 59.41,702.01 61.82,700.10 64.24,698.31 66.65,696.61 69.07,695.00 71.48,693.49 73.90,692.08 76.31,690.77 78.73,689.56 81.14,688.40 83.55,687.27 85.97,686.12 88.38,684.97 90.80,683.85 93.21,682.73 95.63,681.59 98.04,680.39 100.46,679.10 102.87,677.73 105.29,676.34 107.70,674.99 110.12,673.74 112.53,672.62 114.94,671.57 117.36,670.55 119.77,669.53 122.19,668.47 124.60,667.34 127.02,666.18 129.43,665.00 131.85,663.85 134.26,662.74 136.68,661.69 139.09,660.68 141.50,659.68 143.92,658.70 146.33,657.70 148.75,656.70 151.16,655.72 153.58,654.73 155.99,653.72 158.41,652.66 160.82,651.53 163.24,650.37 165.65,649.16 168.07,647.93 170.48,646.70 172.89,645.44 175.31,644.16 177.72,642.87 180.14,641.57 182.55,640.28 184.97,638.98 187.38,637.65 189.80,636.34 192.21,635.06 194.63,633.86 197.04,632.73 199.46,631.66 201.87,630.61 204.28,629.60 206.70,628.59 209.11,627.63 211.53,626.71 213.94,625.80 216.36,624.84 218.77,623.78 221.19,622.48 223.60,620.96 226.02,619.41 228.43,617.99 230.85,616.90 233.26,616.11 235.67,615.45 238.09,614.86 240.50,614.30 242.92,613.69 245.33,613.06 247.75,612.44 250.16,611.81 252.58,611.16 254.99,610.48 257.41,609.74 259.82,608.95 262.23,608.15 264.65,607.35 267.06,606.59 269.48,605.88 271.89,605.20 274.31,604.53 276.72,603.86 279.14,603.15 281.55,602.38 283.97,601.57 286.38,600.75 288.80,599.96 291.21,599.25 293.62,598.61 296.04,598.02 298.45,597.45 300.87,596.90 303.28,596.37 305.70,595.85 308.11,595.32 310.53,594.81 312.94,594.30 315.36,593.80 317.77,593.32 320.19,592.84 322.60,592.38" fill="none" stroke="#ff0000" class="cv"/><rect x="36.50" y="586.21" width="299.90" height="130.60" class="sp"/><line x1="49.75" y1="716.81" x2="49.75" y2="721.31" class="tk"/><text transform="translate(49.75,729.01) scale(0.84,1)" class="tl" text-anchor="middle">0</text><line x1="73.90" y1="716.81" x2="73.90" y2="721.31" class="tk"/><text transform="translate(73.90,729.01) scale(0.84,1)" class="tl" text-anchor="middle">100</text><line x1="98.04" y1="716.81" x2="98.04" y2="721.31" class="tk"/><text transform="translate(98.04,729.01) scale(0.84,1)" class="tl" text-anchor="middle">200</text><line x1="122.19" y1="716.81" x2="122.19" y2="721.31" class="tk"/><text transform="translate(122.19,729.01) scale(0.84,1)" class="tl" text-anchor="middle">300</text><line x1="146.33" y1="716.81" x2="146.33" y2="721.31" class="tk"/><text transform="translate(146.33,729.01) scale(0.84,1)" class="tl" text-anchor="middle">400</text><line x1="170.48" y1="716.81" x2="170.48" y2="721.31" class="tk"/><text transform="translate(170.48,729.01) scale(0.84,1)" class="tl" text-anchor="middle">500</text><line x1="194.63" y1="716.81" x2="194.63" y2="721.31" class="tk"/><text transform="translate(194.63,729.01) scale(0.84,1)" class="tl" text-anchor="middle">600</text><line x1="218.77" y1="716.81" x2="218.77" y2="721.31" class="tk"/><text transform="translate(218.77,729.01) scale(0.84,1)" class="tl" text-anchor="middle">700</text><line x1="242.92" y1="716.81" x2="242.92" y2="721.31" class="tk"/><text transform="translate(242.92,729.01) scale(0.84,1)" class="tl" text-anchor="middle">800</text><line x1="267.06" y1="716.81" x2="267.06" y2="721.31" class="tk"/><text transform="translate(267.06,729.01) scale(0.84,1)" class="tl" text-anchor="middle">900</text><line x1="291.21" y1="716.81" x2="291.21" y2="721.31" class="tk"/><text transform="translate(291.21,729.01) scale(0.84,1)" class="tl" text-anchor="middle">1000</text><line x1="322.60" y1="716.81" x2="322.60" y2="721.31" class="tk"/><text transform="translate(322.60,729.01) scale(0.84,1)" class="tl" text-anchor="middle">1130</text><line x1="31.90" y1="710.87" x2="36.50" y2="710.87" class="tk"/><text transform="translate(26.70,713.77) scale(0.84,1)" class="tl" text-anchor="end">0</text><line x1="31.90" y1="687.95" x2="36.50" y2="687.95" class="tk"/><text transform="translate(26.70,690.85) scale(0.84,1)" class="tl" text-anchor="end">100</text><line x1="31.90" y1="665.03" x2="36.50" y2="665.03" class="tk"/><text transform="translate(26.70,667.93) scale(0.84,1)" class="tl" text-anchor="end">200</text><line x1="31.90" y1="642.11" x2="36.50" y2="642.11" class="tk"/><text transform="translate(26.70,645.01) scale(0.84,1)" class="tl" text-anchor="end">300</text><line x1="31.90" y1="619.19" x2="36.50" y2="619.19" class="tk"/><text transform="translate(26.70,622.09) scale(0.84,1)" class="tl" text-anchor="end">400</text><line x1="31.90" y1="596.27" x2="36.50" y2="596.27" class="tk"/><text transform="translate(26.70,599.17) scale(0.84,1)" class="tl" text-anchor="end">500</text><rect x="39.50" y="589.81" width="70.1" height="45" rx="1.5" class="lgb"/><line x1="41.80" y1="595.81" x2="58.20" y2="595.81" stroke="#ffff00" stroke-width="1.9"/><text x="63.80" y="598.31" class="lg" textLength="18.7" lengthAdjust="spacingAndGlyphs">S-PIN</text><line x1="41.80" y1="606.61" x2="58.20" y2="606.61" stroke="#d2b48c" stroke-width="1.9"/><text x="63.80" y="609.11" class="lg" textLength="20.3" lengthAdjust="spacingAndGlyphs">D-PIN</text><line x1="41.80" y1="617.11" x2="58.20" y2="617.11" stroke="#ffa500" stroke-width="1.9"/><text x="63.80" y="619.61" class="lg" textLength="25.2" lengthAdjust="spacingAndGlyphs">RD-PIN</text><line x1="41.80" y1="628.01" x2="58.20" y2="628.01" stroke="#ff0000" stroke-width="1.9"/><text x="63.80" y="630.51" class="lg" textLength="42.5" lengthAdjust="spacingAndGlyphs">CM-PIN(RD)</text><text transform="translate(186.45,579.51) scale(1,1.1)" class="ti" text-anchor="middle">LR</text><text transform="translate(186.45,743.61) scale(1,1.07)" class="xl" text-anchor="middle">The number of top ranked proteins</text><text transform="translate(10.10,651.51) rotate(-90) scale(1.035,1)" class="yl" text-anchor="middle">The number of essential proteins</text></g>
<g><line x1="397.50" y1="586.21" x2="397.50" y2="716.81" class="gr"/><line x1="421.50" y1="586.21" x2="421.50" y2="716.81" class="gr"/><line x1="445.50" y1="586.21" x2="445.50" y2="716.81" class="gr"/><line x1="469.50" y1="586.21" x2="469.50" y2="716.81" class="gr"/><line x1="494.50" y1="586.21" x2="494.50" y2="716.81" class="gr"/><line x1="518.50" y1="586.21" x2="518.50" y2="716.81" class="gr"/><line x1="542.50" y1="586.21" x2="542.50" y2="716.81" class="gr"/><line x1="566.50" y1="586.21" x2="566.50" y2="716.81" class="gr"/><line x1="590.50" y1="586.21" x2="590.50" y2="716.81" class="gr"/><line x1="614.50" y1="586.21" x2="614.50" y2="716.81" class="gr"/><line x1="639.50" y1="586.21" x2="639.50" y2="716.81" class="gr"/><line x1="670.50" y1="586.21" x2="670.50" y2="716.81" class="gr"/><line x1="383.90" y1="710.50" x2="683.60" y2="710.50" class="gr"/><line x1="383.90" y1="689.50" x2="683.60" y2="689.50" class="gr"/><line x1="383.90" y1="668.50" x2="683.60" y2="668.50" class="gr"/><line x1="383.90" y1="648.50" x2="683.60" y2="648.50" class="gr"/><line x1="383.90" y1="627.50" x2="683.60" y2="627.50" class="gr"/><line x1="383.90" y1="606.50" x2="683.60" y2="606.50" class="gr"/><polyline points="397.40,710.87 399.82,709.09 402.23,707.40 404.65,705.79 407.07,704.30 409.48,702.92 411.90,701.63 414.32,700.41 416.73,699.27 419.15,698.22 421.57,697.26 423.98,696.41 426.40,695.64 428.82,694.91 431.24,694.21 433.65,693.49 436.07,692.78 438.49,692.09 440.90,691.40 443.32,690.69 445.74,689.93 448.15,689.13 450.57,688.30 452.99,687.43 455.40,686.51 457.82,685.54 460.24,684.44 462.65,683.23 465.07,681.98 467.49,680.77 469.90,679.67 472.32,678.75 474.74,677.92 477.15,677.12 479.57,676.27 481.99,675.28 484.41,674.01 486.82,672.51 489.24,670.92 491.66,669.42 494.07,668.16 496.49,667.14 498.91,666.25 501.32,665.42 503.74,664.61 506.16,663.76 508.57,662.89 510.99,662.04 513.41,661.18 515.82,660.29 518.24,659.36 520.66,658.36 523.07,657.29 525.49,656.20 527.91,655.13 530.32,654.13 532.74,653.20 535.16,652.31 537.58,651.45 539.99,650.60 542.41,649.73 544.83,648.84 547.24,647.94 549.66,647.04 552.08,646.17 554.49,645.33 556.91,644.55 559.33,643.81 561.74,643.09 564.16,642.35 566.58,641.56 568.99,640.72 571.41,639.82 573.83,638.91 576.24,638.01 578.66,637.17 581.08,636.37 583.49,635.61 585.91,634.86 588.33,634.13 590.75,633.40 593.16,632.68 595.58,631.98 598.00,631.28 600.41,630.57 602.83,629.84 605.25,629.07 607.66,628.28 610.08,627.47 612.50,626.66 614.91,625.86 617.33,625.06 619.75,624.26 622.16,623.46 624.58,622.66 627.00,621.88 629.41,621.11 631.83,620.34 634.25,619.58 636.66,618.84 639.08,618.11 641.50,617.41 643.92,616.72 646.33,616.05 648.75,615.38 651.17,614.72 653.58,614.05 656.00,613.38 658.42,612.70 660.83,612.02 663.25,611.35 665.67,610.67 668.08,609.99 670.50,609.32" fill="none" stroke="#ffff00" class="cv"/><polyline points="397.40,710.87 399.82,708.99 402.23,707.20 404.65,705.51 407.07,703.94 409.48,702.50 411.90,701.16 414.32,699.91 416.73,698.74 419.15,697.65 421.57,696.63 423.98,695.70 426.40,694.85 428.82,694.04 431.24,693.25 433.65,692.45 436.07,691.64 438.49,690.86 440.90,690.08 443.32,689.29 445.74,688.47 448.15,687.65 450.57,686.83 452.99,685.98 455.40,685.07 457.82,684.07 460.24,682.88 462.65,681.50 465.07,680.05 467.49,678.63 469.90,677.37 472.32,676.29 474.74,675.32 477.15,674.38 479.57,673.41 481.99,672.34 484.41,671.13 486.82,669.79 489.24,668.41 491.66,667.07 494.07,665.85 496.49,664.76 498.91,663.72 501.32,662.73 503.74,661.77 506.16,660.83 508.57,659.90 510.99,658.99 513.41,658.11 515.82,657.26 518.24,656.43 520.66,655.66 523.07,654.94 525.49,654.23 527.91,653.48 530.32,652.66 532.74,651.71 535.16,650.65 537.58,649.54 539.99,648.44 542.41,647.43 544.83,646.50 547.24,645.61 549.66,644.75 552.08,643.90 554.49,643.03 556.91,642.14 559.33,641.23 561.74,640.32 564.16,639.45 566.58,638.63 568.99,637.88 571.41,637.16 573.83,636.48 576.24,635.79 578.66,635.07 581.08,634.32 583.49,633.54 585.91,632.75 588.33,632.00 590.75,631.30 593.16,630.68 595.58,630.11 598.00,629.55 600.41,628.98 602.83,628.37 605.25,627.72 607.66,627.04 610.08,626.33 612.50,625.59 614.91,624.81 617.33,623.95 619.75,623.00 622.16,622.02 624.58,621.07 627.00,620.21 629.41,619.43 631.83,618.71 634.25,618.01 636.66,617.33 639.08,616.65 641.50,615.96 643.92,615.29 646.33,614.63 648.75,613.97 651.17,613.30 653.58,612.61 656.00,611.89 658.42,611.15 660.83,610.39 663.25,609.62 665.67,608.84 668.08,608.04 670.50,607.22" fill="none" stroke="#d2b48c" class="cv"/><polyline points="397.40,710.87 399.82,708.91 402.23,707.03 404.65,705.27 407.07,703.61 409.48,702.08 411.90,700.65 414.32,699.31 416.73,698.05 419.15,696.88 421.57,695.80 423.98,694.80 426.40,693.88 428.82,693.02 431.24,692.20 433.65,691.40 436.07,690.68 438.49,690.06 440.90,689.43 443.32,688.72 445.74,687.84 448.15,686.63 450.57,685.06 452.99,683.29 455.40,681.45 457.82,679.67 460.24,677.84 462.65,675.87 465.07,673.92 467.49,672.20 469.90,670.88 472.32,669.96 474.74,669.23 477.15,668.58 479.57,667.91 481.99,667.11 484.41,666.11 486.82,664.98 489.24,663.78 491.66,662.58 494.07,661.46 496.49,660.42 498.91,659.41 501.32,658.43 503.74,657.44 506.16,656.43 508.57,655.38 510.99,654.31 513.41,653.23 515.82,652.19 518.24,651.20 520.66,650.28 523.07,649.42 525.49,648.58 527.91,647.71 530.32,646.80 532.74,645.80 535.16,644.73 537.58,643.64 539.99,642.57 542.41,641.56 544.83,640.64 547.24,639.75 549.66,638.89 552.08,638.03 554.49,637.17 556.91,636.25 559.33,635.29 561.74,634.36 564.16,633.50 566.58,632.77 568.99,632.18 571.41,631.67 573.83,631.21 576.24,630.75 578.66,630.26 581.08,629.72 583.49,629.17 585.91,628.62 588.33,628.07 590.75,627.53 593.16,627.04 595.58,626.57 598.00,626.10 600.41,625.59 602.83,625.02 605.25,624.35 607.66,623.58 610.08,622.75 612.50,621.89 614.91,621.04 617.33,620.19 619.75,619.32 622.16,618.43 624.58,617.53 627.00,616.65 629.41,615.76 631.83,614.86 634.25,613.97 636.66,613.09 639.08,612.25 641.50,611.44 643.92,610.67 646.33,609.92 648.75,609.17 651.17,608.41 653.58,607.63 656.00,606.81 658.42,605.98 660.83,605.13 663.25,604.26 665.67,603.38 668.08,602.48 670.50,601.57" fill="none" stroke="#ffa500" class="cv"/><polyline points="397.40,710.87 399.82,708.57 402.23,706.41 404.65,704.42 407.07,702.62 409.48,701.03 411.90,699.70 414.32,698.57 416.73,697.51 419.15,696.42 421.57,695.17 423.98,693.68 426.40,692.01 428.82,690.26 431.24,688.56 433.65,687.00 436.07,685.61 438.49,684.31 440.90,683.05 443.32,681.80 445.74,680.51 448.15,679.18 450.57,677.85 452.99,676.50 455.40,675.15 457.82,673.81 460.24,672.46 462.65,671.09 465.07,669.73 467.49,668.39 469.90,667.11 472.32,665.88 474.74,664.69 477.15,663.52 479.57,662.38 481.99,661.25 484.41,660.14 486.82,659.06 489.24,657.99 491.66,656.91 494.07,655.80 496.49,654.64 498.91,653.45 501.32,652.24 503.74,651.06 506.16,649.94 508.57,648.90 510.99,647.91 513.41,646.94 515.82,645.96 518.24,644.91 520.66,643.79 523.07,642.61 525.49,641.41 527.91,640.21 530.32,639.05 532.74,637.93 535.16,636.81 537.58,635.72 539.99,634.65 542.41,633.61 544.83,632.60 547.24,631.63 549.66,630.67 552.08,629.73 554.49,628.79 556.91,627.84 559.33,626.88 561.74,625.93 564.16,625.03 566.58,624.18 568.99,623.43 571.41,622.74 573.83,622.07 576.24,621.38 578.66,620.62 581.08,619.80 583.49,618.92 585.91,618.00 588.33,617.03 590.75,616.02 593.16,614.89 595.58,613.65 598.00,612.38 600.41,611.19 602.83,610.15 605.25,609.28 607.66,608.48 610.08,607.75 612.50,607.05 614.91,606.39 617.33,605.76 619.75,605.18 622.16,604.62 624.58,604.05 627.00,603.45 629.41,602.80 631.83,602.12 634.25,601.43 636.66,600.75 639.08,600.10 641.50,599.50 643.92,598.92 646.33,598.36 648.75,597.80 651.17,597.23 653.58,596.64 656.00,596.02 658.42,595.38 660.83,594.72 663.25,594.05 665.67,593.36 668.08,592.65 670.50,591.94" fill="none" stroke="#ff0000" class="cv"/><rect x="383.90" y="586.21" width="299.70" height="130.60" class="sp"/><line x1="397.40" y1="716.81" x2="397.40" y2="721.31" class="tk"/><text transform="translate(397.40,729.01) scale(0.84,1)" class="tl" text-anchor="middle">0</text><line x1="421.57" y1="716.81" x2="421.57" y2="721.31" class="tk"/><text transform="translate(421.57,729.01) scale(0.84,1)" class="tl" text-anchor="middle">100</text><line x1="445.74" y1="716.81" x2="445.74" y2="721.31" class="tk"/><text transform="translate(445.74,729.01) scale(0.84,1)" class="tl" text-anchor="middle">200</text><line x1="469.90" y1="716.81" x2="469.90" y2="721.31" class="tk"/><text transform="translate(469.90,729.01) scale(0.84,1)" class="tl" text-anchor="middle">300</text><line x1="494.07" y1="716.81" x2="494.07" y2="721.31" class="tk"/><text transform="translate(494.07,729.01) scale(0.84,1)" class="tl" text-anchor="middle">400</text><line x1="518.24" y1="716.81" x2="518.24" y2="721.31" class="tk"/><text transform="translate(518.24,729.01) scale(0.84,1)" class="tl" text-anchor="middle">500</text><line x1="542.41" y1="716.81" x2="542.41" y2="721.31" class="tk"/><text transform="translate(542.41,729.01) scale(0.84,1)" class="tl" text-anchor="middle">600</text><line x1="566.58" y1="716.81" x2="566.58" y2="721.31" class="tk"/><text transform="translate(566.58,729.01) scale(0.84,1)" class="tl" text-anchor="middle">700</text><line x1="590.75" y1="716.81" x2="590.75" y2="721.31" class="tk"/><text transform="translate(590.75,729.01) scale(0.84,1)" class="tl" text-anchor="middle">800</text><line x1="614.91" y1="716.81" x2="614.91" y2="721.31" class="tk"/><text transform="translate(614.91,729.01) scale(0.84,1)" class="tl" text-anchor="middle">900</text><line x1="639.08" y1="716.81" x2="639.08" y2="721.31" class="tk"/><text transform="translate(639.08,729.01) scale(0.84,1)" class="tl" text-anchor="middle">1000</text><line x1="670.50" y1="716.81" x2="670.50" y2="721.31" class="tk"/><text transform="translate(670.50,729.01) scale(0.84,1)" class="tl" text-anchor="middle">1130</text><line x1="379.30" y1="710.87" x2="383.90" y2="710.87" class="tk"/><text transform="translate(374.10,713.77) scale(0.84,1)" class="tl" text-anchor="end">0</text><line x1="379.30" y1="689.93" x2="383.90" y2="689.93" class="tk"/><text transform="translate(374.10,692.83) scale(0.84,1)" class="tl" text-anchor="end">100</text><line x1="379.30" y1="668.99" x2="383.90" y2="668.99" class="tk"/><text transform="translate(374.10,671.89) scale(0.84,1)" class="tl" text-anchor="end">200</text><line x1="379.30" y1="648.05" x2="383.90" y2="648.05" class="tk"/><text transform="translate(374.10,650.95) scale(0.84,1)" class="tl" text-anchor="end">300</text><line x1="379.30" y1="627.12" x2="383.90" y2="627.12" class="tk"/><text transform="translate(374.10,630.02) scale(0.84,1)" class="tl" text-anchor="end">400</text><line x1="379.30" y1="606.18" x2="383.90" y2="606.18" class="tk"/><text transform="translate(374.10,609.08) scale(0.84,1)" class="tl" text-anchor="end">500</text><rect x="386.90" y="589.81" width="70.1" height="45" rx="1.5" class="lgb"/><line x1="389.20" y1="595.81" x2="405.60" y2="595.81" stroke="#ffff00" stroke-width="1.9"/><text x="411.20" y="598.31" class="lg" textLength="18.7" lengthAdjust="spacingAndGlyphs">S-PIN</text><line x1="389.20" y1="606.61" x2="405.60" y2="606.61" stroke="#d2b48c" stroke-width="1.9"/><text x="411.20" y="609.11" class="lg" textLength="20.3" lengthAdjust="spacingAndGlyphs">D-PIN</text><line x1="389.20" y1="617.11" x2="405.60" y2="617.11" stroke="#ffa500" stroke-width="1.9"/><text x="411.20" y="619.61" class="lg" textLength="25.2" lengthAdjust="spacingAndGlyphs">RD-PIN</text><line x1="389.20" y1="628.01" x2="405.60" y2="628.01" stroke="#ff0000" stroke-width="1.9"/><text x="411.20" y="630.51" class="lg" textLength="42.5" lengthAdjust="spacingAndGlyphs">CM-PIN(RD)</text><text transform="translate(533.75,579.51) scale(1,1.1)" class="ti" text-anchor="middle">PR</text><text transform="translate(533.75,743.61) scale(1,1.07)" class="xl" text-anchor="middle">The number of top ranked proteins</text><text transform="translate(357.50,651.51) rotate(-90) scale(1.035,1)" class="yl" text-anchor="middle">The number of essential proteins</text></g>
<g><line x1="49.50" y1="775.78" x2="49.50" y2="906.38" class="gr"/><line x1="73.50" y1="775.78" x2="73.50" y2="906.38" class="gr"/><line x1="98.50" y1="775.78" x2="98.50" y2="906.38" class="gr"/><line x1="122.50" y1="775.78" x2="122.50" y2="906.38" class="gr"/><line x1="146.50" y1="775.78" x2="146.50" y2="906.38" class="gr"/><line x1="170.50" y1="775.78" x2="170.50" y2="906.38" class="gr"/><line x1="194.50" y1="775.78" x2="194.50" y2="906.38" class="gr"/><line x1="218.50" y1="775.78" x2="218.50" y2="906.38" class="gr"/><line x1="242.50" y1="775.78" x2="242.50" y2="906.38" class="gr"/><line x1="267.50" y1="775.78" x2="267.50" y2="906.38" class="gr"/><line x1="291.50" y1="775.78" x2="291.50" y2="906.38" class="gr"/><line x1="322.50" y1="775.78" x2="322.50" y2="906.38" class="gr"/><line x1="36.50" y1="900.50" x2="336.40" y2="900.50" class="gr"/><line x1="36.50" y1="879.50" x2="336.40" y2="879.50" class="gr"/><line x1="36.50" y1="859.50" x2="336.40" y2="859.50" class="gr"/><line x1="36.50" y1="838.50" x2="336.40" y2="838.50" class="gr"/><line x1="36.50" y1="817.50" x2="336.40" y2="817.50" class="gr"/><line x1="36.50" y1="796.50" x2="336.40" y2="796.50" class="gr"/><line x1="36.50" y1="776.50" x2="336.40" y2="776.50" class="gr"/><polyline points="49.75,900.44 52.16,898.68 54.58,896.97 56.99,895.31 59.41,893.71 61.82,892.16 64.24,890.58 66.65,888.97 69.07,887.45 71.48,886.13 73.90,885.11 76.31,884.39 78.73,883.83 81.14,883.34 83.55,882.83 85.97,882.21 88.38,881.45 90.80,880.60 93.21,879.70 95.63,878.77 98.04,877.86 100.46,876.96 102.87,876.04 105.29,875.12 107.70,874.20 110.12,873.30 112.53,872.42 114.94,871.57 117.36,870.71 119.77,869.85 122.19,868.95 124.60,867.99 127.02,866.97 129.43,865.92 131.85,864.88 134.26,863.86 136.68,862.92 139.09,862.06 141.50,861.33 143.92,860.69 146.33,860.04 148.75,859.33 151.16,858.61 153.58,857.86 155.99,857.10 158.41,856.31 160.82,855.49 163.24,854.65 165.65,853.79 168.07,852.89 170.48,851.96 172.89,850.97 175.31,849.91 177.72,848.83 180.14,847.77 182.55,846.78 184.97,845.87 187.38,845.02 189.80,844.19 192.21,843.33 194.63,842.43 197.04,841.43 199.46,840.38 201.87,839.30 204.28,838.24 206.70,837.25 209.11,836.33 211.53,835.46 213.94,834.61 216.36,833.77 218.77,832.90 221.19,832.00 223.60,831.11 226.02,830.20 228.43,829.28 230.85,828.34 233.26,827.33 235.67,826.25 238.09,825.19 240.50,824.20 242.92,823.36 245.33,822.71 247.75,822.18 250.16,821.68 252.58,821.13 254.99,820.46 257.41,819.55 259.82,818.42 262.23,817.20 264.65,816.04 267.06,815.08 269.48,814.30 271.89,813.62 274.31,812.98 276.72,812.37 279.14,811.76 281.55,811.16 283.97,810.57 286.38,810.00 288.80,809.43 291.21,808.86 293.62,808.27 296.04,807.67 298.45,807.07 300.87,806.48 303.28,805.91 305.70,805.38 308.11,804.89 310.53,804.43 312.94,803.98 315.36,803.56 317.77,803.16 320.19,802.79 322.60,802.44" fill="none" stroke="#ffff00" class="cv"/><polyline points="49.75,900.44 52.16,898.55 54.58,896.66 56.99,894.80 59.41,892.95 61.82,891.12 64.24,889.19 66.65,887.18 69.07,885.23 71.48,883.52 73.90,882.21 76.31,881.29 78.73,880.58 81.14,879.94 83.55,879.28 85.97,878.48 88.38,877.47 90.80,876.30 93.21,875.06 95.63,873.82 98.04,872.68 100.46,871.63 102.87,870.62 105.29,869.64 107.70,868.67 110.12,867.71 112.53,866.74 114.94,865.78 117.36,864.84 119.77,863.89 122.19,862.94 124.60,861.97 127.02,860.96 129.43,859.95 131.85,858.96 134.26,857.99 136.68,857.09 139.09,856.26 141.50,855.54 143.92,854.92 146.33,854.24 148.75,853.43 151.16,852.55 153.58,851.62 155.99,850.65 158.41,849.68 160.82,848.67 163.24,847.61 165.65,846.54 168.07,845.49 170.48,844.50 172.89,843.58 175.31,842.70 177.72,841.85 180.14,841.01 182.55,840.15 184.97,839.28 187.38,838.41 189.80,837.54 192.21,836.67 194.63,835.80 197.04,834.94 199.46,834.09 201.87,833.24 204.28,832.36 206.70,831.45 209.11,830.44 211.53,829.36 213.94,828.26 216.36,827.21 218.77,826.26 221.19,825.45 223.60,824.71 226.02,824.01 228.43,823.30 230.85,822.54 233.26,821.70 235.67,820.82 238.09,819.93 240.50,819.04 242.92,818.18 245.33,817.37 247.75,816.58 250.16,815.80 252.58,815.03 254.99,814.25 257.41,813.44 259.82,812.62 262.23,811.80 264.65,811.02 267.06,810.31 269.48,809.68 271.89,809.10 274.31,808.54 276.72,807.99 279.14,807.41 281.55,806.80 283.97,806.16 286.38,805.53 288.80,804.90 291.21,804.30 293.62,803.73 296.04,803.17 298.45,802.62 300.87,802.08 303.28,801.55 305.70,801.03 308.11,800.53 310.53,800.03 312.94,799.54 315.36,799.06 317.77,798.58 320.19,798.12 322.60,797.67" fill="none" stroke="#d2b48c" class="cv"/><polyline points="49.75,900.44 52.16,898.52 54.58,896.61 56.99,894.70 59.41,892.80 61.82,890.91 64.24,888.94 66.65,886.90 69.07,884.90 71.48,883.09 73.90,881.59 76.31,880.43 78.73,879.46 81.14,878.58 83.55,877.67 85.97,876.62 88.38,875.35 90.80,873.94 93.21,872.46 95.63,870.98 98.04,869.57 100.46,868.24 102.87,866.94 105.29,865.66 107.70,864.39 110.12,863.15 112.53,861.91 114.94,860.70 117.36,859.49 119.77,858.31 122.19,857.14 124.60,855.98 127.02,854.83 129.43,853.69 131.85,852.57 134.26,851.45 136.68,850.35 139.09,849.27 141.50,848.23 143.92,847.23 146.33,846.16 148.75,844.96 151.16,843.67 153.58,842.32 155.99,840.93 158.41,839.53 160.82,838.05 163.24,836.48 165.65,834.90 168.07,833.40 170.48,832.07 172.89,830.91 175.31,829.85 177.72,828.85 180.14,827.88 182.55,826.89 184.97,825.87 187.38,824.86 189.80,823.86 192.21,822.88 194.63,821.91 197.04,820.97 199.46,820.03 201.87,819.11 204.28,818.22 206.70,817.36 209.11,816.55 211.53,815.80 213.94,815.06 216.36,814.28 218.77,813.42 221.19,812.38 223.60,811.20 226.02,809.97 228.43,808.81 230.85,807.82 233.26,807.01 235.67,806.27 238.09,805.58 240.50,804.94 242.92,804.30 245.33,803.69 247.75,803.13 250.16,802.57 252.58,802.01 254.99,801.40 257.41,800.72 259.82,799.97 262.23,799.21 264.65,798.50 267.06,797.88 269.48,797.38 271.89,796.94 274.31,796.53 276.72,796.10 279.14,795.60 281.55,794.98 283.97,794.27 286.38,793.51 288.80,792.76 291.21,792.08 293.62,791.45 296.04,790.86 298.45,790.28 300.87,789.71 303.28,789.16 305.70,788.62 308.11,788.08 310.53,787.55 312.94,787.02 315.36,786.51 317.77,786.01 320.19,785.51 322.60,785.03" fill="none" stroke="#ffa500" class="cv"/><polyline points="49.75,900.44 52.16,898.36 54.58,896.31 56.99,894.28 59.41,892.27 61.82,890.29 64.24,888.23 66.65,886.09 69.07,884.03 71.48,882.20 73.90,880.76 76.31,879.73 78.73,878.93 81.14,878.21 83.55,877.42 85.97,876.41 88.38,874.98 90.80,873.16 93.21,871.17 95.63,869.21 98.04,867.50 100.46,866.07 102.87,864.76 105.29,863.51 107.70,862.24 110.12,860.87 112.53,859.35 114.94,857.74 117.36,856.09 119.77,854.49 122.19,852.99 124.60,851.59 127.02,850.21 129.43,848.86 131.85,847.57 134.26,846.33 136.68,845.17 139.09,844.08 141.50,843.14 143.92,842.31 146.33,841.39 148.75,840.26 151.16,838.99 153.58,837.64 155.99,836.28 158.41,834.97 160.82,833.70 163.24,832.42 165.65,831.16 168.07,829.93 170.48,828.75 172.89,827.62 175.31,826.53 177.72,825.47 180.14,824.42 182.55,823.36 184.97,822.31 187.38,821.26 189.80,820.22 192.21,819.19 194.63,818.18 197.04,817.21 199.46,816.25 201.87,815.31 204.28,814.37 206.70,813.42 209.11,812.46 211.53,811.50 213.94,810.54 216.36,809.59 218.77,808.65 221.19,807.71 223.60,806.76 226.02,805.82 228.43,804.93 230.85,804.09 233.26,803.31 235.67,802.56 238.09,801.85 240.50,801.18 242.92,800.57 245.33,800.04 247.75,799.58 250.16,799.14 252.58,798.66 254.99,798.09 257.41,797.36 259.82,796.49 262.23,795.56 264.65,794.61 267.06,793.73 269.48,792.86 271.89,791.96 274.31,791.09 276.72,790.35 279.14,789.80 281.55,789.43 283.97,789.14 286.38,788.89 288.80,788.64 291.21,788.35 293.62,788.02 296.04,787.68 298.45,787.32 300.87,786.95 303.28,786.54 305.70,786.10 308.11,785.61 310.53,785.06 312.94,784.44 315.36,783.78 317.77,783.06 320.19,782.31 322.60,781.51" fill="none" stroke="#ff0000" class="cv"/><rect x="36.50" y="775.78" width="299.90" height="130.60" class="sp"/><line x1="49.75" y1="906.38" x2="49.75" y2="910.88" class="tk"/><text transform="translate(49.75,918.58) scale(0.84,1)" class="tl" text-anchor="middle">0</text><line x1="73.90" y1="906.38" x2="73.90" y2="910.88" class="tk"/><text transform="translate(73.90,918.58) scale(0.84,1)" class="tl" text-anchor="middle">100</text><line x1="98.04" y1="906.38" x2="98.04" y2="910.88" class="tk"/><text transform="translate(98.04,918.58) scale(0.84,1)" class="tl" text-anchor="middle">200</text><line x1="122.19" y1="906.38" x2="122.19" y2="910.88" class="tk"/><text transform="translate(122.19,918.58) scale(0.84,1)" class="tl" text-anchor="middle">300</text><line x1="146.33" y1="906.38" x2="146.33" y2="910.88" class="tk"/><text transform="translate(146.33,918.58) scale(0.84,1)" class="tl" text-anchor="middle">400</text><line x1="170.48" y1="906.38" x2="170.48" y2="910.88" class="tk"/><text transform="translate(170.48,918.58) scale(0.84,1)" class="tl" text-anchor="middle">500</text><line x1="194.63" y1="906.38" x2="194.63" y2="910.88" class="tk"/><text transform="translate(194.63,918.58) scale(0.84,1)" class="tl" text-anchor="middle">600</text><line x1="218.77" y1="906.38" x2="218.77" y2="910.88" class="tk"/><text transform="translate(218.77,918.58) scale(0.84,1)" class="tl" text-anchor="middle">700</text><line x1="242.92" y1="906.38" x2="242.92" y2="910.88" class="tk"/><text transform="translate(242.92,918.58) scale(0.84,1)" class="tl" text-anchor="middle">800</text><line x1="267.06" y1="906.38" x2="267.06" y2="910.88" class="tk"/><text transform="translate(267.06,918.58) scale(0.84,1)" class="tl" text-anchor="middle">900</text><line x1="291.21" y1="906.38" x2="291.21" y2="910.88" class="tk"/><text transform="translate(291.21,918.58) scale(0.84,1)" class="tl" text-anchor="middle">1000</text><line x1="322.60" y1="906.38" x2="322.60" y2="910.88" class="tk"/><text transform="translate(322.60,918.58) scale(0.84,1)" class="tl" text-anchor="middle">1130</text><line x1="31.90" y1="900.44" x2="36.50" y2="900.44" class="tk"/><text transform="translate(26.70,903.34) scale(0.84,1)" class="tl" text-anchor="end">0</text><line x1="31.90" y1="879.72" x2="36.50" y2="879.72" class="tk"/><text transform="translate(26.70,882.62) scale(0.84,1)" class="tl" text-anchor="end">100</text><line x1="31.90" y1="859.00" x2="36.50" y2="859.00" class="tk"/><text transform="translate(26.70,861.90) scale(0.84,1)" class="tl" text-anchor="end">200</text><line x1="31.90" y1="838.28" x2="36.50" y2="838.28" class="tk"/><text transform="translate(26.70,841.18) scale(0.84,1)" class="tl" text-anchor="end">300</text><line x1="31.90" y1="817.56" x2="36.50" y2="817.56" class="tk"/><text transform="translate(26.70,820.46) scale(0.84,1)" class="tl" text-anchor="end">400</text><line x1="31.90" y1="796.84" x2="36.50" y2="796.84" class="tk"/><text transform="translate(26.70,799.74) scale(0.84,1)" class="tl" text-anchor="end">500</text><line x1="31.90" y1="776.12" x2="36.50" y2="776.12" class="tk"/><text transform="translate(26.70,779.02) scale(0.84,1)" class="tl" text-anchor="end">600</text><rect x="39.50" y="779.38" width="70.1" height="45" rx="1.5" class="lgb"/><line x1="41.80" y1="785.38" x2="58.20" y2="785.38" stroke="#ffff00" stroke-width="1.9"/><text x="63.80" y="787.88" class="lg" textLength="18.7" lengthAdjust="spacingAndGlyphs">S-PIN</text><line x1="41.80" y1="796.18" x2="58.20" y2="796.18" stroke="#d2b48c" stroke-width="1.9"/><text x="63.80" y="798.68" class="lg" textLength="20.3" lengthAdjust="spacingAndGlyphs">D-PIN</text><line x1="41.80" y1="806.68" x2="58.20" y2="806.68" stroke="#ffa500" stroke-width="1.9"/><text x="63.80" y="809.18" class="lg" textLength="25.2" lengthAdjust="spacingAndGlyphs">RD-PIN</text><line x1="41.80" y1="817.58" x2="58.20" y2="817.58" stroke="#ff0000" stroke-width="1.9"/><text x="63.80" y="820.08" class="lg" textLength="42.5" lengthAdjust="spacingAndGlyphs">CM-PIN(RD)</text><text transform="translate(186.45,769.08) scale(1,1.1)" class="ti" text-anchor="middle">TP</text><text transform="translate(186.45,933.18) scale(1,1.07)" class="xl" text-anchor="middle">The number of top ranked proteins</text><text transform="translate(10.10,841.08) rotate(-90) scale(1.035,1)" class="yl" text-anchor="middle">The number of essential proteins</text></g>
<g><line x1="397.50" y1="775.78" x2="397.50" y2="906.38" class="gr"/><line x1="421.50" y1="775.78" x2="421.50" y2="906.38" class="gr"/><line x1="445.50" y1="775.78" x2="445.50" y2="906.38" class="gr"/><line x1="469.50" y1="775.78" x2="469.50" y2="906.38" class="gr"/><line x1="494.50" y1="775.78" x2="494.50" y2="906.38" class="gr"/><line x1="518.50" y1="775.78" x2="518.50" y2="906.38" class="gr"/><line x1="542.50" y1="775.78" x2="542.50" y2="906.38" class="gr"/><line x1="566.50" y1="775.78" x2="566.50" y2="906.38" class="gr"/><line x1="590.50" y1="775.78" x2="590.50" y2="906.38" class="gr"/><line x1="614.50" y1="775.78" x2="614.50" y2="906.38" class="gr"/><line x1="639.50" y1="775.78" x2="639.50" y2="906.38" class="gr"/><line x1="670.50" y1="775.78" x2="670.50" y2="906.38" class="gr"/><line x1="383.90" y1="900.50" x2="683.60" y2="900.50" class="gr"/><line x1="383.90" y1="879.50" x2="683.60" y2="879.50" class="gr"/><line x1="383.90" y1="858.50" x2="683.60" y2="858.50" class="gr"/><line x1="383.90" y1="837.50" x2="683.60" y2="837.50" class="gr"/><line x1="383.90" y1="816.50" x2="683.60" y2="816.50" class="gr"/><line x1="383.90" y1="795.50" x2="683.60" y2="795.50" class="gr"/><polyline points="397.40,900.44 399.82,898.28 402.23,896.21 404.65,894.23 407.07,892.35 409.48,890.58 411.90,888.93 414.32,887.37 416.73,885.88 419.15,884.44 421.57,883.03 423.98,881.69 426.40,880.41 428.82,879.15 431.24,877.88 433.65,876.53 436.07,875.06 438.49,873.50 440.90,871.92 443.32,870.39 445.74,868.98 448.15,867.71 450.57,866.52 452.99,865.38 455.40,864.26 457.82,863.11 460.24,861.92 462.65,860.71 465.07,859.52 467.49,858.35 469.90,857.23 472.32,856.16 474.74,855.13 477.15,854.13 479.57,853.15 481.99,852.20 484.41,851.29 486.82,850.43 489.24,849.58 491.66,848.71 494.07,847.79 496.49,846.81 498.91,845.78 501.32,844.72 503.74,843.64 506.16,842.55 508.57,841.42 510.99,840.25 513.41,839.07 515.82,837.93 518.24,836.88 520.66,835.95 523.07,835.08 525.49,834.24 527.91,833.39 530.32,832.48 532.74,831.47 535.16,830.40 537.58,829.31 539.99,828.24 542.41,827.24 544.83,826.31 547.24,825.42 549.66,824.56 552.08,823.70 554.49,822.83 556.91,821.93 559.33,821.02 561.74,820.12 564.16,819.25 566.58,818.43 568.99,817.68 571.41,816.98 573.83,816.30 576.24,815.61 578.66,814.86 581.08,814.02 583.49,813.12 585.91,812.19 588.33,811.29 590.75,810.45 593.16,809.68 595.58,808.94 598.00,808.23 600.41,807.55 602.83,806.89 605.25,806.28 607.66,805.73 610.08,805.18 612.50,804.60 614.91,803.95 617.33,803.16 619.75,802.23 622.16,801.27 624.58,800.34 627.00,799.55 629.41,798.88 631.83,798.29 634.25,797.73 636.66,797.18 639.08,796.61 641.50,796.01 643.92,795.40 646.33,794.79 648.75,794.20 651.17,793.62 653.58,793.08 656.00,792.59 658.42,792.12 660.83,791.67 663.25,791.24 665.67,790.84 668.08,790.46 670.50,790.11" fill="none" stroke="#ffff00" class="cv"/><polyline points="397.40,900.44 399.82,898.24 402.23,896.12 404.65,894.10 407.07,892.18 409.48,890.37 411.90,888.67 414.32,887.06 416.73,885.52 419.15,884.05 421.57,882.61 423.98,881.26 426.40,879.98 428.82,878.73 431.24,877.46 433.65,876.11 436.07,874.65 438.49,873.12 440.90,871.55 443.32,870.02 445.74,868.56 448.15,867.19 450.57,865.87 452.99,864.58 455.40,863.31 457.82,862.06 460.24,860.81 462.65,859.58 465.07,858.37 467.49,857.17 469.90,855.97 472.32,854.76 474.74,853.54 477.15,852.34 479.57,851.18 481.99,850.10 484.41,849.12 486.82,848.20 489.24,847.32 491.66,846.43 494.07,845.49 496.49,844.49 498.91,843.45 501.32,842.40 503.74,841.33 506.16,840.24 508.57,839.15 510.99,838.04 513.41,836.92 515.82,835.77 518.24,834.58 520.66,833.29 523.07,831.92 525.49,830.54 527.91,829.23 530.32,828.07 532.74,827.09 535.16,826.19 537.58,825.35 539.99,824.52 542.41,823.67 544.83,822.78 547.24,821.89 549.66,820.99 552.08,820.12 554.49,819.26 556.91,818.43 559.33,817.61 561.74,816.80 564.16,816.03 566.58,815.28 568.99,814.59 571.41,813.94 573.83,813.30 576.24,812.64 578.66,811.92 581.08,811.09 583.49,810.16 585.91,809.21 588.33,808.30 590.75,807.52 593.16,806.85 595.58,806.26 598.00,805.70 600.41,805.15 602.83,804.58 605.25,804.00 607.66,803.43 610.08,802.86 612.50,802.27 614.91,801.64 617.33,800.96 619.75,800.23 622.16,799.49 624.58,798.76 627.00,798.08 629.41,797.46 631.83,796.88 634.25,796.32 636.66,795.75 639.08,795.14 641.50,794.48 643.92,793.77 646.33,793.03 648.75,792.31 651.17,791.62 653.58,791.01 656.00,790.48 658.42,789.98 660.83,789.52 663.25,789.08 665.67,788.68 668.08,788.32 670.50,788.01" fill="none" stroke="#d2b48c" class="cv"/><polyline points="397.40,900.44 399.82,898.24 402.23,896.12 404.65,894.10 407.07,892.18 409.48,890.37 411.90,888.68 414.32,887.07 416.73,885.54 419.15,884.06 421.57,882.61 423.98,881.22 426.40,879.91 428.82,878.61 431.24,877.29 433.65,875.90 436.07,874.40 438.49,872.82 440.90,871.22 443.32,869.64 445.74,868.14 448.15,866.73 450.57,865.36 452.99,864.03 455.40,862.73 457.82,861.43 460.24,860.13 462.65,858.85 465.07,857.58 467.49,856.34 469.90,855.13 472.32,853.94 474.74,852.77 477.15,851.62 479.57,850.52 481.99,849.47 484.41,848.50 486.82,847.59 489.24,846.70 491.66,845.80 494.07,844.86 496.49,843.86 498.91,842.83 501.32,841.77 503.74,840.70 506.16,839.61 508.57,838.52 510.99,837.42 513.41,836.30 515.82,835.15 518.24,833.95 520.66,832.63 523.07,831.21 525.49,829.77 527.91,828.42 530.32,827.24 532.74,826.24 535.16,825.34 537.58,824.50 539.99,823.68 542.41,822.83 544.83,821.94 547.24,821.05 549.66,820.16 552.08,819.28 554.49,818.43 556.91,817.59 559.33,816.77 561.74,815.97 564.16,815.19 566.58,814.44 568.99,813.76 571.41,813.14 573.83,812.52 576.24,811.86 578.66,811.08 581.08,810.11 583.49,808.96 585.91,807.72 588.33,806.51 590.75,805.42 593.16,804.46 595.58,803.55 598.00,802.68 600.41,801.83 602.83,801.01 605.25,800.23 607.66,799.49 610.08,798.76 612.50,798.02 614.91,797.24 617.33,796.36 619.75,795.39 622.16,794.43 624.58,793.55 627.00,792.83 629.41,792.25 631.83,791.70 634.25,791.22 636.66,790.83 639.08,790.53 641.50,790.31 643.92,790.14 646.33,790.00 648.75,789.87 651.17,789.73 653.58,789.57 656.00,789.38 658.42,789.16 660.83,788.92 663.25,788.66 665.67,788.39 668.08,788.10 670.50,787.80" fill="none" stroke="#ffa500" class="cv"/><polyline points="397.40,900.44 399.82,898.20 402.23,896.04 404.65,893.98 407.07,892.02 409.48,890.17 411.90,888.42 414.32,886.77 416.73,885.19 419.15,883.67 421.57,882.19 423.98,880.80 426.40,879.48 428.82,878.19 431.24,876.88 433.65,875.48 436.07,873.96 438.49,872.36 440.90,870.72 443.32,869.08 445.74,867.51 448.15,866.00 450.57,864.53 452.99,863.08 455.40,861.63 457.82,860.17 460.24,858.69 462.65,857.19 465.07,855.70 467.49,854.24 469.90,852.83 472.32,851.47 474.74,850.14 477.15,848.84 479.57,847.57 481.99,846.32 484.41,845.11 486.82,843.93 489.24,842.77 491.66,841.62 494.07,840.45 496.49,839.30 498.91,838.16 501.32,837.02 503.74,835.84 506.16,834.58 508.57,833.17 510.99,831.63 513.41,830.05 515.82,828.55 518.24,827.24 520.66,826.13 523.07,825.14 525.49,824.21 527.91,823.25 530.32,822.20 532.74,821.00 535.16,819.69 537.58,818.35 539.99,817.07 542.41,815.91 544.83,814.89 547.24,813.95 549.66,813.06 552.08,812.18 554.49,811.29 556.91,810.39 559.33,809.48 561.74,808.59 564.16,807.72 566.58,806.89 568.99,806.08 571.41,805.29 573.83,804.53 576.24,803.80 578.66,803.11 581.08,802.49 583.49,801.91 585.91,801.36 588.33,800.79 590.75,800.18 593.16,799.48 595.58,798.73 598.00,797.96 600.41,797.24 602.83,796.61 605.25,796.10 607.66,795.66 610.08,795.25 612.50,794.81 614.91,794.30 617.33,793.64 619.75,792.84 622.16,792.02 624.58,791.28 627.00,790.74 629.41,790.38 631.83,790.10 634.25,789.86 636.66,789.60 639.08,789.27 641.50,788.84 643.92,788.34 646.33,787.78 648.75,787.19 651.17,786.58 653.58,785.99 656.00,785.42 658.42,784.85 660.83,784.27 663.25,783.70 665.67,783.11 668.08,782.52 670.50,781.93" fill="none" stroke="#ff0000" class="cv"/><rect x="383.90" y="775.78" width="299.70" height="130.60" class="sp"/><line x1="397.40" y1="906.38" x2="397.40" y2="910.88" class="tk"/><text transform="translate(397.40,918.58) scale(0.84,1)" class="tl" text-anchor="middle">0</text><line x1="421.57" y1="906.38" x2="421.57" y2="910.88" class="tk"/><text transform="translate(421.57,918.58) scale(0.84,1)" class="tl" text-anchor="middle">100</text><line x1="445.74" y1="906.38" x2="445.74" y2="910.88" class="tk"/><text transform="translate(445.74,918.58) scale(0.84,1)" class="tl" text-anchor="middle">200</text><line x1="469.90" y1="906.38" x2="469.90" y2="910.88" class="tk"/><text transform="translate(469.90,918.58) scale(0.84,1)" class="tl" text-anchor="middle">300</text><line x1="494.07" y1="906.38" x2="494.07" y2="910.88" class="tk"/><text transform="translate(494.07,918.58) scale(0.84,1)" class="tl" text-anchor="middle">400</text><line x1="518.24" y1="906.38" x2="518.24" y2="910.88" class="tk"/><text transform="translate(518.24,918.58) scale(0.84,1)" class="tl" text-anchor="middle">500</text><line x1="542.41" y1="906.38" x2="542.41" y2="910.88" class="tk"/><text transform="translate(542.41,918.58) scale(0.84,1)" class="tl" text-anchor="middle">600</text><line x1="566.58" y1="906.38" x2="566.58" y2="910.88" class="tk"/><text transform="translate(566.58,918.58) scale(0.84,1)" class="tl" text-anchor="middle">700</text><line x1="590.75" y1="906.38" x2="590.75" y2="910.88" class="tk"/><text transform="translate(590.75,918.58) scale(0.84,1)" class="tl" text-anchor="middle">800</text><line x1="614.91" y1="906.38" x2="614.91" y2="910.88" class="tk"/><text transform="translate(614.91,918.58) scale(0.84,1)" class="tl" text-anchor="middle">900</text><line x1="639.08" y1="906.38" x2="639.08" y2="910.88" class="tk"/><text transform="translate(639.08,918.58) scale(0.84,1)" class="tl" text-anchor="middle">1000</text><line x1="670.50" y1="906.38" x2="670.50" y2="910.88" class="tk"/><text transform="translate(670.50,918.58) scale(0.84,1)" class="tl" text-anchor="middle">1130</text><line x1="379.30" y1="900.44" x2="383.90" y2="900.44" class="tk"/><text transform="translate(374.10,903.34) scale(0.84,1)" class="tl" text-anchor="end">0</text><line x1="379.30" y1="879.47" x2="383.90" y2="879.47" class="tk"/><text transform="translate(374.10,882.37) scale(0.84,1)" class="tl" text-anchor="end">100</text><line x1="379.30" y1="858.49" x2="383.90" y2="858.49" class="tk"/><text transform="translate(374.10,861.39) scale(0.84,1)" class="tl" text-anchor="end">200</text><line x1="379.30" y1="837.51" x2="383.90" y2="837.51" class="tk"/><text transform="translate(374.10,840.41) scale(0.84,1)" class="tl" text-anchor="end">300</text><line x1="379.30" y1="816.54" x2="383.90" y2="816.54" class="tk"/><text transform="translate(374.10,819.44) scale(0.84,1)" class="tl" text-anchor="end">400</text><line x1="379.30" y1="795.56" x2="383.90" y2="795.56" class="tk"/><text transform="translate(374.10,798.46) scale(0.84,1)" class="tl" text-anchor="end">500</text><rect x="386.90" y="779.38" width="70.1" height="45" rx="1.5" class="lgb"/><line x1="389.20" y1="785.38" x2="405.60" y2="785.38" stroke="#ffff00" stroke-width="1.9"/><text x="411.20" y="787.88" class="lg" textLength="18.7" lengthAdjust="spacingAndGlyphs">S-PIN</text><line x1="389.20" y1="796.18" x2="405.60" y2="796.18" stroke="#d2b48c" stroke-width="1.9"/><text x="411.20" y="798.68" class="lg" textLength="20.3" lengthAdjust="spacingAndGlyphs">D-PIN</text><line x1="389.20" y1="806.68" x2="405.60" y2="806.68" stroke="#ffa500" stroke-width="1.9"/><text x="411.20" y="809.18" class="lg" textLength="25.2" lengthAdjust="spacingAndGlyphs">RD-PIN</text><line x1="389.20" y1="817.58" x2="405.60" y2="817.58" stroke="#ff0000" stroke-width="1.9"/><text x="411.20" y="820.08" class="lg" textLength="42.5" lengthAdjust="spacingAndGlyphs">CM-PIN(RD)</text><text transform="translate(533.75,769.08) scale(1,1.1)" class="ti" text-anchor="middle">LID</text><text transform="translate(533.75,933.18) scale(1,1.07)" class="xl" text-anchor="middle">The number of top ranked proteins</text><text transform="translate(357.50,841.08) rotate(-90) scale(1.035,1)" class="yl" text-anchor="middle">The number of essential proteins</text></g>
<g><line x1="49.50" y1="965.35" x2="49.50" y2="1095.95" class="gr"/><line x1="73.50" y1="965.35" x2="73.50" y2="1095.95" class="gr"/><line x1="98.50" y1="965.35" x2="98.50" y2="1095.95" class="gr"/><line x1="122.50" y1="965.35" x2="122.50" y2="1095.95" class="gr"/><line x1="146.50" y1="965.35" x2="146.50" y2="1095.95" class="gr"/><line x1="170.50" y1="965.35" x2="170.50" y2="1095.95" class="gr"/><line x1="194.50" y1="965.35" x2="194.50" y2="1095.95" class="gr"/><line x1="218.50" y1="965.35" x2="218.50" y2="1095.95" class="gr"/><line x1="242.50" y1="965.35" x2="242.50" y2="1095.95" class="gr"/><line x1="267.50" y1="965.35" x2="267.50" y2="1095.95" class="gr"/><line x1="291.50" y1="965.35" x2="291.50" y2="1095.95" class="gr"/><line x1="322.50" y1="965.35" x2="322.50" y2="1095.95" class="gr"/><line x1="36.50" y1="1090.50" x2="336.40" y2="1090.50" class="gr"/><line x1="36.50" y1="1068.50" x2="336.40" y2="1068.50" class="gr"/><line x1="36.50" y1="1046.50" x2="336.40" y2="1046.50" class="gr"/><line x1="36.50" y1="1025.50" x2="336.40" y2="1025.50" class="gr"/><line x1="36.50" y1="1003.50" x2="336.40" y2="1003.50" class="gr"/><line x1="36.50" y1="982.50" x2="336.40" y2="982.50" class="gr"/><polyline points="49.75,1090.01 52.16,1088.03 54.58,1086.08 56.99,1084.18 59.41,1082.32 61.82,1080.52 64.24,1078.76 66.65,1077.04 69.07,1075.37 71.48,1073.72 73.90,1072.10 76.31,1070.50 78.73,1068.93 81.14,1067.39 83.55,1065.86 85.97,1064.33 88.38,1062.77 90.80,1061.21 93.21,1059.66 95.63,1058.17 98.04,1056.77 100.46,1055.47 102.87,1054.25 105.29,1053.06 107.70,1051.90 110.12,1050.73 112.53,1049.54 114.94,1048.36 117.36,1047.19 119.77,1046.03 122.19,1044.90 124.60,1043.79 127.02,1042.70 129.43,1041.62 131.85,1040.56 134.26,1039.50 136.68,1038.44 139.09,1037.38 141.50,1036.33 143.92,1035.31 146.33,1034.32 148.75,1033.37 151.16,1032.45 153.58,1031.55 155.99,1030.67 158.41,1029.79 160.82,1028.90 163.24,1028.01 165.65,1027.14 168.07,1026.28 170.48,1025.47 172.89,1024.70 175.31,1023.96 177.72,1023.24 180.14,1022.52 182.55,1021.80 184.97,1021.07 187.38,1020.33 189.80,1019.60 192.21,1018.86 194.63,1018.13 197.04,1017.40 199.46,1016.66 201.87,1015.93 204.28,1015.19 206.70,1014.46 209.11,1013.71 211.53,1012.95 213.94,1012.19 216.36,1011.46 218.77,1010.79 221.19,1010.18 223.60,1009.61 226.02,1009.07 228.43,1008.53 230.85,1007.98 233.26,1007.41 235.67,1006.83 238.09,1006.25 240.50,1005.69 242.92,1005.18 245.33,1004.71 247.75,1004.28 250.16,1003.87 252.58,1003.45 254.99,1003.02 257.41,1002.55 259.82,1002.07 262.23,1001.59 264.65,1001.11 267.06,1000.64 269.48,1000.20 271.89,999.77 274.31,999.34 276.72,998.91 279.14,998.49 281.55,998.06 283.97,997.65 286.38,997.23 288.80,996.79 291.21,996.33 293.62,995.82 296.04,995.27 298.45,994.70 300.87,994.11 303.28,993.52 305.70,992.94 308.11,992.37 310.53,991.81 312.94,991.25 315.36,990.68 317.77,990.12 320.19,989.55 322.60,988.99" fill="none" stroke="#ffff00" class="cv"/><polyline points="49.75,1090.01 52.16,1088.07 54.58,1086.17 56.99,1084.31 59.41,1082.50 61.82,1080.73 64.24,1079.01 66.65,1077.32 69.07,1075.68 71.48,1074.08 73.90,1072.53 76.31,1071.03 78.73,1069.57 81.14,1068.16 83.55,1066.77 85.97,1065.40 88.38,1064.07 90.80,1062.78 93.21,1061.50 95.63,1060.23 98.04,1058.93 100.46,1057.59 102.87,1056.22 105.29,1054.86 107.70,1053.52 110.12,1052.24 112.53,1051.02 114.94,1049.86 117.36,1048.72 119.77,1047.57 122.19,1046.41 124.60,1045.21 127.02,1044.01 129.43,1042.79 131.85,1041.58 134.26,1040.36 136.68,1039.13 139.09,1037.86 141.50,1036.61 143.92,1035.42 146.33,1034.32 148.75,1033.33 151.16,1032.40 153.58,1031.52 155.99,1030.66 158.41,1029.79 160.82,1028.91 163.24,1028.03 165.65,1027.17 168.07,1026.32 170.48,1025.47 172.89,1024.63 175.31,1023.80 177.72,1022.98 180.14,1022.17 182.55,1021.37 184.97,1020.58 187.38,1019.81 189.80,1019.04 192.21,1018.27 194.63,1017.48 197.04,1016.67 199.46,1015.85 201.87,1015.02 204.28,1014.19 206.70,1013.38 209.11,1012.58 211.53,1011.78 213.94,1010.99 216.36,1010.22 218.77,1009.49 221.19,1008.80 223.60,1008.14 226.02,1007.49 228.43,1006.87 230.85,1006.26 233.26,1005.67 235.67,1005.11 238.09,1004.55 240.50,1004.01 242.92,1003.45 245.33,1002.86 247.75,1002.23 250.16,1001.62 252.58,1001.07 254.99,1000.64 257.41,1000.33 259.82,1000.07 262.23,999.84 264.65,999.61 267.06,999.35 269.48,999.07 271.89,998.79 274.31,998.49 276.72,998.18 279.14,997.84 281.55,997.46 283.97,997.06 286.38,996.62 288.80,996.16 291.21,995.68 293.62,995.17 296.04,994.63 298.45,994.05 300.87,993.47 303.28,992.88 305.70,992.29 308.11,991.73 310.53,991.16 312.94,990.60 315.36,990.03 317.77,989.47 320.19,988.90 322.60,988.34" fill="none" stroke="#d2b48c" class="cv"/><polyline points="49.75,1090.01 52.16,1088.03 54.58,1086.08 56.99,1084.18 59.41,1082.32 61.82,1080.52 64.24,1078.75 66.65,1077.03 69.07,1075.35 71.48,1073.71 73.90,1072.10 76.31,1070.53 78.73,1068.99 81.14,1067.49 83.55,1066.01 85.97,1064.54 88.38,1063.07 90.80,1061.59 93.21,1060.14 95.63,1058.74 98.04,1057.42 100.46,1056.18 102.87,1055.00 105.29,1053.86 107.70,1052.74 110.12,1051.59 112.53,1050.42 114.94,1049.26 117.36,1048.09 119.77,1046.93 122.19,1045.76 124.60,1044.60 127.02,1043.46 129.43,1042.31 131.85,1041.14 134.26,1039.93 136.68,1038.64 139.09,1037.27 141.50,1035.89 143.92,1034.60 146.33,1033.46 148.75,1032.47 151.16,1031.57 153.58,1030.73 155.99,1029.93 158.41,1029.14 160.82,1028.38 163.24,1027.66 165.65,1026.95 168.07,1026.23 170.48,1025.47 172.89,1024.65 175.31,1023.80 177.72,1022.93 180.14,1022.04 182.55,1021.15 184.97,1020.27 187.38,1019.37 189.80,1018.47 192.21,1017.56 194.63,1016.62 197.04,1015.65 199.46,1014.64 201.87,1013.63 204.28,1012.62 206.70,1011.65 209.11,1010.69 211.53,1009.71 213.94,1008.76 216.36,1007.88 218.77,1007.12 221.19,1006.46 223.60,1005.87 226.02,1005.32 228.43,1004.81 230.85,1004.31 233.26,1003.86 235.67,1003.44 238.09,1003.03 240.50,1002.61 242.92,1002.16 245.33,1001.64 247.75,1001.10 250.16,1000.52 252.58,999.94 254.99,999.35 257.41,998.78 259.82,998.21 262.23,997.62 264.65,997.00 267.06,996.33 269.48,995.55 271.89,994.68 274.31,993.76 276.72,992.85 279.14,992.01 281.55,991.22 283.97,990.45 286.38,989.71 288.80,989.01 291.21,988.34 293.62,987.72 296.04,987.14 298.45,986.58 300.87,986.04 303.28,985.50 305.70,984.95 308.11,984.39 310.53,983.82 312.94,983.26 315.36,982.69 317.77,982.13 320.19,981.56 322.60,981.00" fill="none" stroke="#ffa500" class="cv"/><polyline points="49.75,1090.01 52.16,1087.94 54.58,1085.91 56.99,1083.92 59.41,1081.98 61.82,1080.08 64.24,1078.26 66.65,1076.50 69.07,1074.77 71.48,1073.03 73.90,1071.23 76.31,1069.35 78.73,1067.40 81.14,1065.45 83.55,1063.54 85.97,1061.73 88.38,1059.99 90.80,1058.26 93.21,1056.61 95.63,1055.08 98.04,1053.75 100.46,1052.65 102.87,1051.71 105.29,1050.83 107.70,1049.90 110.12,1048.78 112.53,1047.37 114.94,1045.70 117.36,1043.92 119.77,1042.16 122.19,1040.58 124.60,1039.20 127.02,1037.91 129.43,1036.67 131.85,1035.41 134.26,1034.10 136.68,1032.69 139.09,1031.20 141.50,1029.70 143.92,1028.27 146.33,1026.98 148.75,1025.82 151.16,1024.74 153.58,1023.73 155.99,1022.75 158.41,1021.80 160.82,1020.89 163.24,1020.02 165.65,1019.17 168.07,1018.33 170.48,1017.48 172.89,1016.62 175.31,1015.77 177.72,1014.91 180.14,1014.04 182.55,1013.16 184.97,1012.27 187.38,1011.36 189.80,1010.44 192.21,1009.53 194.63,1008.63 197.04,1007.74 199.46,1006.84 201.87,1005.96 204.28,1005.11 206.70,1004.31 209.11,1003.58 211.53,1002.89 213.94,1002.22 216.36,1001.55 218.77,1000.86 221.19,1000.15 223.60,999.44 226.02,998.71 228.43,997.97 230.85,997.19 233.26,996.33 235.67,995.38 238.09,994.43 240.50,993.56 242.92,992.87 245.33,992.37 247.75,991.98 250.16,991.62 252.58,991.22 254.99,990.71 257.41,990.01 259.82,989.11 262.23,988.12 264.65,987.11 267.06,986.18 269.48,985.32 271.89,984.46 274.31,983.63 276.72,982.83 279.14,982.08 281.55,981.38 283.97,980.71 286.38,980.07 288.80,979.45 291.21,978.84 293.62,978.25 296.04,977.68 298.45,977.12 300.87,976.57 303.28,976.02 305.70,975.46 308.11,974.88 310.53,974.29 312.94,973.70 315.36,973.11 317.77,972.51 320.19,971.90 322.60,971.29" fill="none" stroke="#ff0000" class="cv"/><rect x="36.50" y="965.35" width="299.90" height="130.60" class="sp"/><line x1="49.75" y1="1095.95" x2="49.75" y2="1100.45" class="tk"/><text transform="translate(49.75,1108.15) scale(0.84,1)" class="tl" text-anchor="middle">0</text><line x1="73.90" y1="1095.95" x2="73.90" y2="1100.45" class="tk"/><text transform="translate(73.90,1108.15) scale(0.84,1)" class="tl" text-anchor="middle">100</text><line x1="98.04" y1="1095.95" x2="98.04" y2="1100.45" class="tk"/><text transform="translate(98.04,1108.15) scale(0.84,1)" class="tl" text-anchor="middle">200</text><line x1="122.19" y1="1095.95" x2="122.19" y2="1100.45" class="tk"/><text transform="translate(122.19,1108.15) scale(0.84,1)" class="tl" text-anchor="middle">300</text><line x1="146.33" y1="1095.95" x2="146.33" y2="1100.45" class="tk"/><text transform="translate(146.33,1108.15) scale(0.84,1)" class="tl" text-anchor="middle">400</text><line x1="170.48" y1="1095.95" x2="170.48" y2="1100.45" class="tk"/><text transform="translate(170.48,1108.15) scale(0.84,1)" class="tl" text-anchor="middle">500</text><line x1="194.63" y1="1095.95" x2="194.63" y2="1100.45" class="tk"/><text transform="translate(194.63,1108.15) scale(0.84,1)" class="tl" text-anchor="middle">600</text><line x1="218.77" y1="1095.95" x2="218.77" y2="1100.45" class="tk"/><text transform="translate(218.77,1108.15) scale(0.84,1)" class="tl" text-anchor="middle">700</text><line x1="242.92" y1="1095.95" x2="242.92" y2="1100.45" class="tk"/><text transform="translate(242.92,1108.15) scale(0.84,1)" class="tl" text-anchor="middle">800</text><line x1="267.06" y1="1095.95" x2="267.06" y2="1100.45" class="tk"/><text transform="translate(267.06,1108.15) scale(0.84,1)" class="tl" text-anchor="middle">900</text><line x1="291.21" y1="1095.95" x2="291.21" y2="1100.45" class="tk"/><text transform="translate(291.21,1108.15) scale(0.84,1)" class="tl" text-anchor="middle">1000</text><line x1="322.60" y1="1095.95" x2="322.60" y2="1100.45" class="tk"/><text transform="translate(322.60,1108.15) scale(0.84,1)" class="tl" text-anchor="middle">1130</text><line x1="31.90" y1="1090.01" x2="36.50" y2="1090.01" class="tk"/><text transform="translate(26.70,1092.91) scale(0.84,1)" class="tl" text-anchor="end">0</text><line x1="31.90" y1="1068.43" x2="36.50" y2="1068.43" class="tk"/><text transform="translate(26.70,1071.33) scale(0.84,1)" class="tl" text-anchor="end">100</text><line x1="31.90" y1="1046.84" x2="36.50" y2="1046.84" class="tk"/><text transform="translate(26.70,1049.74) scale(0.84,1)" class="tl" text-anchor="end">200</text><line x1="31.90" y1="1025.25" x2="36.50" y2="1025.25" class="tk"/><text transform="translate(26.70,1028.15) scale(0.84,1)" class="tl" text-anchor="end">300</text><line x1="31.90" y1="1003.67" x2="36.50" y2="1003.67" class="tk"/><text transform="translate(26.70,1006.57) scale(0.84,1)" class="tl" text-anchor="end">400</text><line x1="31.90" y1="982.08" x2="36.50" y2="982.08" class="tk"/><text transform="translate(26.70,984.98) scale(0.84,1)" class="tl" text-anchor="end">500</text><rect x="39.50" y="968.95" width="70.1" height="45" rx="1.5" class="lgb"/><line x1="41.80" y1="974.95" x2="58.20" y2="974.95" stroke="#ffff00" stroke-width="1.9"/><text x="63.80" y="977.45" class="lg" textLength="18.7" lengthAdjust="spacingAndGlyphs">S-PIN</text><line x1="41.80" y1="985.75" x2="58.20" y2="985.75" stroke="#d2b48c" stroke-width="1.9"/><text x="63.80" y="988.25" class="lg" textLength="20.3" lengthAdjust="spacingAndGlyphs">D-PIN</text><line x1="41.80" y1="996.25" x2="58.20" y2="996.25" stroke="#ffa500" stroke-width="1.9"/><text x="63.80" y="998.75" class="lg" textLength="25.2" lengthAdjust="spacingAndGlyphs">RD-PIN</text><line x1="41.80" y1="1007.15" x2="58.20" y2="1007.15" stroke="#ff0000" stroke-width="1.9"/><text x="63.80" y="1009.65" class="lg" textLength="42.5" lengthAdjust="spacingAndGlyphs">CM-PIN(RD)</text><text transform="translate(186.45,958.65) scale(1,1.1)" class="ti" text-anchor="middle">PeC</text><text transform="translate(186.45,1122.75) scale(1,1.07)" class="xl" text-anchor="middle">The number of top ranked proteins</text><text transform="translate(10.10,1030.65) rotate(-90) scale(1.035,1)" class="yl" text-anchor="middle">The number of essential proteins</text></g>
<g><line x1="397.50" y1="965.35" x2="397.50" y2="1095.95" class="gr"/><line x1="421.50" y1="965.35" x2="421.50" y2="1095.95" class="gr"/><line x1="445.50" y1="965.35" x2="445.50" y2="1095.95" class="gr"/><line x1="469.50" y1="965.35" x2="469.50" y2="1095.95" class="gr"/><line x1="494.50" y1="965.35" x2="494.50" y2="1095.95" class="gr"/><line x1="518.50" y1="965.35" x2="518.50" y2="1095.95" class="gr"/><line x1="542.50" y1="965.35" x2="542.50" y2="1095.95" class="gr"/><line x1="566.50" y1="965.35" x2="566.50" y2="1095.95" class="gr"/><line x1="590.50" y1="965.35" x2="590.50" y2="1095.95" class="gr"/><line x1="614.50" y1="965.35" x2="614.50" y2="1095.95" class="gr"/><line x1="639.50" y1="965.35" x2="639.50" y2="1095.95" class="gr"/><line x1="670.50" y1="965.35" x2="670.50" y2="1095.95" class="gr"/><line x1="383.90" y1="1090.50" x2="683.60" y2="1090.50" class="gr"/><line x1="383.90" y1="1069.50" x2="683.60" y2="1069.50" class="gr"/><line x1="383.90" y1="1048.50" x2="683.60" y2="1048.50" class="gr"/><line x1="383.90" y1="1027.50" x2="683.60" y2="1027.50" class="gr"/><line x1="383.90" y1="1006.50" x2="683.60" y2="1006.50" class="gr"/><line x1="383.90" y1="985.50" x2="683.60" y2="985.50" class="gr"/><polyline points="397.40,1090.01 399.82,1088.00 402.23,1086.06 404.65,1084.18 407.07,1082.37 409.48,1080.64 411.90,1079.01 414.32,1077.46 416.73,1075.96 419.15,1074.46 421.57,1072.93 423.98,1071.36 426.40,1069.76 428.82,1068.16 431.24,1066.58 433.65,1065.02 436.07,1063.49 438.49,1061.97 440.90,1060.47 443.32,1058.99 445.74,1057.52 448.15,1056.07 450.57,1054.65 452.99,1053.24 455.40,1051.83 457.82,1050.44 460.24,1049.04 462.65,1047.63 465.07,1046.24 467.49,1044.88 469.90,1043.56 472.32,1042.30 474.74,1041.07 477.15,1039.87 479.57,1038.69 481.99,1037.52 484.41,1036.36 486.82,1035.21 489.24,1034.08 491.66,1032.98 494.07,1031.90 496.49,1030.85 498.91,1029.83 501.32,1028.82 503.74,1027.85 506.16,1026.90 508.57,1026.00 510.99,1025.15 513.41,1024.30 515.82,1023.44 518.24,1022.53 520.66,1021.53 523.07,1020.47 525.49,1019.38 527.91,1018.32 530.32,1017.32 532.74,1016.38 535.16,1015.48 537.58,1014.61 539.99,1013.76 542.41,1012.95 544.83,1012.15 547.24,1011.39 549.66,1010.65 552.08,1009.92 554.49,1009.20 556.91,1008.46 559.33,1007.73 561.74,1007.01 564.16,1006.32 566.58,1005.65 568.99,1005.07 571.41,1004.56 573.83,1004.04 576.24,1003.46 578.66,1002.74 581.08,1001.66 583.49,1000.20 585.91,998.61 588.33,997.16 590.75,996.07 593.16,995.34 595.58,994.74 598.00,994.21 600.41,993.70 602.83,993.16 605.25,992.57 607.66,991.99 610.08,991.41 612.50,990.82 614.91,990.24 617.33,989.65 619.75,989.04 622.16,988.44 624.58,987.86 627.00,987.32 629.41,986.82 631.83,986.33 634.25,985.87 636.66,985.43 639.08,985.03 641.50,984.69 643.92,984.38 646.33,984.11 648.75,983.82 651.17,983.52 653.58,983.16 656.00,982.72 658.42,982.20 660.83,981.60 663.25,980.93 665.67,980.19 668.08,979.41 670.50,978.58" fill="none" stroke="#ffff00" class="cv"/><polyline points="397.40,1090.01 399.82,1087.99 402.23,1086.03 404.65,1084.15 407.07,1082.35 409.48,1080.64 411.90,1079.04 414.32,1077.53 416.73,1076.08 419.15,1074.63 421.57,1073.14 423.98,1071.61 426.40,1070.05 428.82,1068.50 431.24,1066.95 433.65,1065.44 436.07,1063.94 438.49,1062.46 440.90,1060.99 443.32,1059.55 445.74,1058.14 448.15,1056.77 450.57,1055.43 452.99,1054.10 455.40,1052.79 457.82,1051.48 460.24,1050.17 462.65,1048.87 465.07,1047.58 467.49,1046.30 469.90,1045.02 472.32,1043.75 474.74,1042.47 477.15,1041.20 479.57,1039.96 481.99,1038.77 484.41,1037.65 486.82,1036.57 489.24,1035.52 491.66,1034.45 494.07,1033.36 496.49,1032.17 498.91,1030.92 501.32,1029.67 503.74,1028.52 506.16,1027.53 508.57,1026.73 510.99,1026.05 513.41,1025.42 515.82,1024.75 518.24,1023.98 520.66,1023.04 523.07,1021.95 525.49,1020.81 527.91,1019.72 530.32,1018.78 532.74,1018.00 535.16,1017.31 537.58,1016.65 539.99,1015.98 542.41,1015.24 544.83,1014.39 547.24,1013.48 549.66,1012.53 552.08,1011.58 554.49,1010.65 556.91,1009.71 559.33,1008.72 561.74,1007.77 564.16,1006.93 566.58,1006.28 568.99,1005.84 571.41,1005.51 573.83,1005.21 576.24,1004.87 578.66,1004.41 581.08,1003.58 583.49,1002.39 585.91,1001.06 588.33,999.85 590.75,998.99 593.16,998.47 595.58,998.08 598.00,997.74 600.41,997.37 602.83,996.91 605.25,996.28 607.66,995.52 610.08,994.69 612.50,993.88 614.91,993.16 617.33,992.53 619.75,991.94 622.16,991.37 624.58,990.81 627.00,990.24 629.41,989.66 631.83,989.07 634.25,988.49 636.66,987.91 639.08,987.32 641.50,986.75 643.92,986.19 646.33,985.62 648.75,985.06 651.17,984.48 653.58,983.88 656.00,983.26 658.42,982.63 660.83,981.97 663.25,981.30 665.67,980.62 668.08,979.92 670.50,979.20" fill="none" stroke="#d2b48c" class="cv"/><polyline points="397.40,1090.01 399.82,1087.94 402.23,1085.95 404.65,1084.03 407.07,1082.19 409.48,1080.43 411.90,1078.79 414.32,1077.25 416.73,1075.76 419.15,1074.27 421.57,1072.73 423.98,1071.12 426.40,1069.50 428.82,1067.86 431.24,1066.22 433.65,1064.60 436.07,1062.99 438.49,1061.37 440.90,1059.76 443.32,1058.20 445.74,1056.69 448.15,1055.25 450.57,1053.87 452.99,1052.52 455.40,1051.17 457.82,1049.81 460.24,1048.43 462.65,1047.05 465.07,1045.67 467.49,1044.30 469.90,1042.94 472.32,1041.58 474.74,1040.22 477.15,1038.87 479.57,1037.55 481.99,1036.27 484.41,1035.04 486.82,1033.84 489.24,1032.67 491.66,1031.54 494.07,1030.44 496.49,1029.37 498.91,1028.32 501.32,1027.30 503.74,1026.34 506.16,1025.44 508.57,1024.63 510.99,1023.89 513.41,1023.18 515.82,1022.46 518.24,1021.69 520.66,1020.85 523.07,1019.95 525.49,1019.03 527.91,1018.15 530.32,1017.32 532.74,1016.57 535.16,1015.86 537.58,1015.17 539.99,1014.49 542.41,1013.78 544.83,1013.05 547.24,1012.32 549.66,1011.58 552.08,1010.82 554.49,1010.03 556.91,1009.15 559.33,1008.20 561.74,1007.24 564.16,1006.37 566.58,1005.65 568.99,1005.13 571.41,1004.72 573.83,1004.33 576.24,1003.91 578.66,1003.36 581.08,1002.58 583.49,1001.56 585.91,1000.44 588.33,999.33 590.75,998.36 593.16,997.54 595.58,996.78 598.00,996.05 600.41,995.33 602.83,994.62 605.25,993.91 607.66,993.22 610.08,992.53 612.50,991.83 614.91,991.07 617.33,990.25 619.75,989.36 622.16,988.45 624.58,987.55 627.00,986.70 629.41,985.92 631.83,985.19 634.25,984.47 636.66,983.73 639.08,982.95 641.50,982.10 643.92,981.20 646.33,980.27 648.75,979.33 651.17,978.41 653.58,977.53 656.00,976.72 658.42,975.93 660.83,975.16 663.25,974.42 665.67,973.69 668.08,973.00 670.50,972.33" fill="none" stroke="#ffa500" class="cv"/><polyline points="397.40,1090.01 399.82,1087.84 402.23,1085.75 404.65,1083.75 407.07,1081.83 409.48,1080.02 411.90,1078.33 414.32,1076.75 416.73,1075.24 419.15,1073.70 421.57,1072.10 423.98,1070.40 426.40,1068.63 428.82,1066.85 431.24,1065.07 433.65,1063.35 436.07,1061.66 438.49,1059.97 440.90,1058.32 443.32,1056.72 445.74,1055.23 448.15,1053.87 450.57,1052.63 452.99,1051.42 455.40,1050.16 457.82,1048.77 460.24,1047.15 462.65,1045.35 465.07,1043.48 467.49,1041.66 469.90,1040.02 472.32,1038.57 474.74,1037.22 477.15,1035.92 479.57,1034.65 481.99,1033.36 484.41,1032.04 486.82,1030.73 489.24,1029.43 491.66,1028.15 494.07,1026.90 496.49,1025.67 498.91,1024.45 501.32,1023.25 503.74,1022.12 506.16,1021.07 508.57,1020.10 510.99,1019.20 513.41,1018.34 515.82,1017.51 518.24,1016.69 520.66,1015.93 523.07,1015.23 525.49,1014.53 527.91,1013.79 530.32,1012.95 532.74,1011.91 535.16,1010.71 537.58,1009.45 539.99,1008.21 542.41,1007.11 544.83,1006.17 547.24,1005.31 549.66,1004.48 552.08,1003.64 554.49,1002.74 556.91,1001.74 559.33,1000.68 561.74,999.59 564.16,998.53 566.58,997.53 568.99,996.62 571.41,995.75 573.83,994.91 576.24,994.06 578.66,993.16 581.08,992.14 583.49,991.03 585.91,989.92 588.33,988.93 590.75,988.16 593.16,987.58 595.58,987.10 598.00,986.67 600.41,986.27 602.83,985.87 605.25,985.48 607.66,985.14 610.08,984.80 612.50,984.43 614.91,983.99 617.33,983.46 619.75,982.84 622.16,982.15 624.58,981.41 627.00,980.66 629.41,979.81 631.83,978.84 634.25,977.85 636.66,976.97 639.08,976.29 641.50,975.78 643.92,975.35 646.33,974.97 648.75,974.62 651.17,974.29 653.58,973.96 656.00,973.61 658.42,973.27 660.83,972.94 663.25,972.61 665.67,972.30 668.08,972.00 670.50,971.70" fill="none" stroke="#ff0000" class="cv"/><rect x="383.90" y="965.35" width="299.70" height="130.60" class="sp"/><line x1="397.40" y1="1095.95" x2="397.40" y2="1100.45" class="tk"/><text transform="translate(397.40,1108.15) scale(0.84,1)" class="tl" text-anchor="middle">0</text><line x1="421.57" y1="1095.95" x2="421.57" y2="1100.45" class="tk"/><text transform="translate(421.57,1108.15) scale(0.84,1)" class="tl" text-anchor="middle">100</text><line x1="445.74" y1="1095.95" x2="445.74" y2="1100.45" class="tk"/><text transform="translate(445.74,1108.15) scale(0.84,1)" class="tl" text-anchor="middle">200</text><line x1="469.90" y1="1095.95" x2="469.90" y2="1100.45" class="tk"/><text transform="translate(469.90,1108.15) scale(0.84,1)" class="tl" text-anchor="middle">300</text><line x1="494.07" y1="1095.95" x2="494.07" y2="1100.45" class="tk"/><text transform="translate(494.07,1108.15) scale(0.84,1)" class="tl" text-anchor="middle">400</text><line x1="518.24" y1="1095.95" x2="518.24" y2="1100.45" class="tk"/><text transform="translate(518.24,1108.15) scale(0.84,1)" class="tl" text-anchor="middle">500</text><line x1="542.41" y1="1095.95" x2="542.41" y2="1100.45" class="tk"/><text transform="translate(542.41,1108.15) scale(0.84,1)" class="tl" text-anchor="middle">600</text><line x1="566.58" y1="1095.95" x2="566.58" y2="1100.45" class="tk"/><text transform="translate(566.58,1108.15) scale(0.84,1)" class="tl" text-anchor="middle">700</text><line x1="590.75" y1="1095.95" x2="590.75" y2="1100.45" class="tk"/><text transform="translate(590.75,1108.15) scale(0.84,1)" class="tl" text-anchor="middle">800</text><line x1="614.91" y1="1095.95" x2="614.91" y2="1100.45" class="tk"/><text transform="translate(614.91,1108.15) scale(0.84,1)" class="tl" text-anchor="middle">900</text><line x1="639.08" y1="1095.95" x2="639.08" y2="1100.45" class="tk"/><text transform="translate(639.08,1108.15) scale(0.84,1)" class="tl" text-anchor="middle">1000</text><line x1="670.50" y1="1095.95" x2="670.50" y2="1100.45" class="tk"/><text transform="translate(670.50,1108.15) scale(0.84,1)" class="tl" text-anchor="middle">1130</text><line x1="379.30" y1="1090.01" x2="383.90" y2="1090.01" class="tk"/><text transform="translate(374.10,1092.91) scale(0.84,1)" class="tl" text-anchor="end">0</text><line x1="379.30" y1="1069.18" x2="383.90" y2="1069.18" class="tk"/><text transform="translate(374.10,1072.08) scale(0.84,1)" class="tl" text-anchor="end">100</text><line x1="379.30" y1="1048.35" x2="383.90" y2="1048.35" class="tk"/><text transform="translate(374.10,1051.25) scale(0.84,1)" class="tl" text-anchor="end">200</text><line x1="379.30" y1="1027.53" x2="383.90" y2="1027.53" class="tk"/><text transform="translate(374.10,1030.43) scale(0.84,1)" class="tl" text-anchor="end">300</text><line x1="379.30" y1="1006.70" x2="383.90" y2="1006.70" class="tk"/><text transform="translate(374.10,1009.60) scale(0.84,1)" class="tl" text-anchor="end">400</text><line x1="379.30" y1="985.87" x2="383.90" y2="985.87" class="tk"/><text transform="translate(374.10,988.77) scale(0.84,1)" class="tl" text-anchor="end">500</text><rect x="386.90" y="968.95" width="70.1" height="45" rx="1.5" class="lgb"/><line x1="389.20" y1="974.95" x2="405.60" y2="974.95" stroke="#ffff00" stroke-width="1.9"/><text x="411.20" y="977.45" class="lg" textLength="18.7" lengthAdjust="spacingAndGlyphs">S-PIN</text><line x1="389.20" y1="985.75" x2="405.60" y2="985.75" stroke="#d2b48c" stroke-width="1.9"/><text x="411.20" y="988.25" class="lg" textLength="20.3" lengthAdjust="spacingAndGlyphs">D-PIN</text><line x1="389.20" y1="996.25" x2="405.60" y2="996.25" stroke="#ffa500" stroke-width="1.9"/><text x="411.20" y="998.75" class="lg" textLength="25.2" lengthAdjust="spacingAndGlyphs">RD-PIN</text><line x1="389.20" y1="1007.15" x2="405.60" y2="1007.15" stroke="#ff0000" stroke-width="1.9"/><text x="411.20" y="1009.65" class="lg" textLength="42.5" lengthAdjust="spacingAndGlyphs">CM-PIN(RD)</text><text transform="translate(533.75,958.65) scale(1,1.1)" class="ti" text-anchor="middle">WDC</text><text transform="translate(533.75,1122.75) scale(1,1.07)" class="xl" text-anchor="middle">The number of top ranked proteins</text><text transform="translate(357.50,1030.65) rotate(-90) scale(1.035,1)" class="yl" text-anchor="middle">The number of essential proteins</text></g>
</svg>
</body></html>
